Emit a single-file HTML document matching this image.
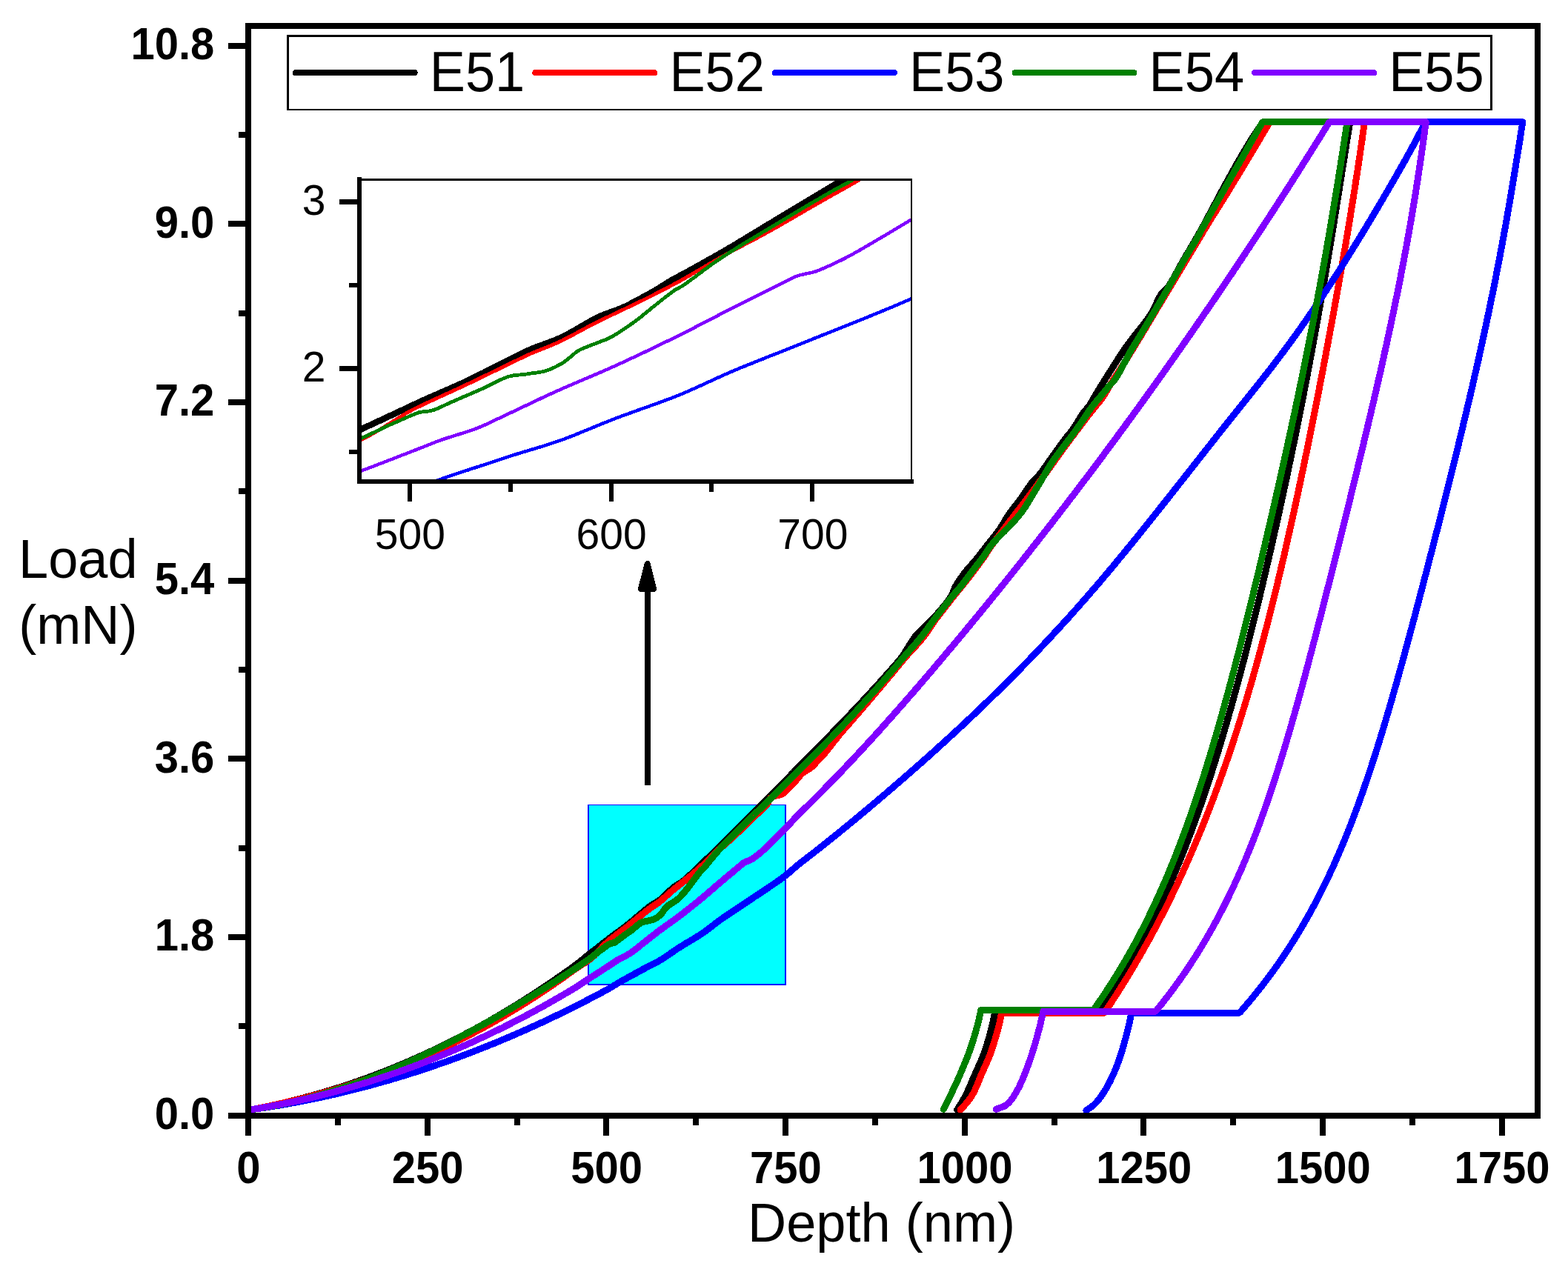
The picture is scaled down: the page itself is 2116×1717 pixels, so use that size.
<!DOCTYPE html>
<html lang="en"><head><meta charset="utf-8"><title>Load vs Depth</title>
<style>html,body{margin:0;padding:0;background:#fff}svg{display:block}text{font-family:'Liberation Sans', sans-serif;fill:#000}.b{font-weight:bold}</style>
</head><body>
<svg width="2116" height="1717" viewBox="0 0 2116 1717" role="img" aria-label="Load versus depth nanoindentation curves for E51 to E55">
<rect width="2116" height="1717" fill="#fff"/>
<g shape-rendering="crispEdges"><rect x="793" y="1086" width="268" height="244" fill="#0000ff"/><rect x="795" y="1087" width="264" height="241" fill="#00ffff"/></g>
<g fill="none" stroke-width="9" stroke-linejoin="round" stroke-linecap="round" shape-rendering="crispEdges">
<path stroke="#000000" d="M338 1498 L339.9 1497.6 L341.9 1497.3 L343.8 1496.9 L345.7 1496.5 L347.7 1496.2 L349.6 1495.8 L351.5 1495.4 L353.5 1495 L355.4 1494.6 L357.3 1494.2 L359.3 1493.8 L361.2 1493.4 L363.1 1493 L365.1 1492.6 L367 1492.2 L368.9 1491.8 L370.9 1491.3 L372.8 1490.9 L374.7 1490.5 L376.7 1490 L378.6 1489.6 L380.5 1489.2 L382.5 1488.7 L384.4 1488.2 L386.3 1487.8 L388.3 1487.3 L390.2 1486.9 L392.1 1486.4 L394.1 1485.9 L396 1485.4 L397.9 1484.9 L399.9 1484.5 L401.8 1484 L403.7 1483.5 L405.7 1483 L407.6 1482.5 L409.5 1482 L411.5 1481.4 L413.4 1480.9 L415.3 1480.4 L417.3 1479.9 L419.2 1479.3 L421.1 1478.8 L423.1 1478.3 L425 1477.7 L426.9 1477.2 L428.9 1476.6 L430.8 1476.1 L432.7 1475.5 L434.7 1474.9 L436.6 1474.4 L438.5 1473.8 L440.5 1473.2 L442.4 1472.6 L444.3 1472.1 L446.3 1471.5 L448.2 1470.9 L450.1 1470.3 L452.1 1469.7 L454 1469.1 L455.9 1468.4 L457.9 1467.8 L459.8 1467.2 L461.7 1466.6 L463.7 1465.9 L465.6 1465.3 L467.5 1464.7 L469.5 1464 L471.4 1463.4 L473.3 1462.7 L475.3 1462.1 L477.2 1461.4 L479.1 1460.7 L481.1 1460.1 L483 1459.4 L484.9 1458.7 L486.9 1458 L488.8 1457.3 L490.7 1456.7 L492.7 1456 L494.6 1455.3 L496.5 1454.6 L498.5 1453.8 L500.4 1453.1 L502.3 1452.4 L504.3 1451.7 L506.2 1451 L508.1 1450.2 L510.1 1449.5 L512 1448.7 L513.9 1448 L515.9 1447.2 L517.8 1446.5 L519.7 1445.7 L521.7 1445 L523.6 1444.2 L525.5 1443.4 L527.5 1442.6 L529.4 1441.9 L531.3 1441.1 L533.3 1440.3 L535.2 1439.5 L537.1 1438.7 L539.1 1437.9 L541 1437.1 L542.9 1436.3 L544.9 1435.4 L546.8 1434.6 L548.7 1433.8 L550.7 1433 L552.6 1432.1 L554.5 1431.3 L556.5 1430.4 L558.4 1429.6 L560.3 1428.7 L562.3 1427.9 L564.2 1427 L566.1 1426.1 L568.1 1425.3 L570 1424.4 L571.9 1423.5 L573.9 1422.6 L575.8 1421.7 L577.7 1420.8 L579.7 1419.9 L581.6 1419 L583.5 1418.1 L585.5 1417.2 L587.4 1416.3 L589.3 1415.3 L591.3 1414.4 L593.2 1413.5 L595.1 1412.5 L597.1 1411.6 L599 1410.6 L600.9 1409.7 L602.9 1408.7 L604.8 1407.8 L606.7 1406.8 L608.7 1405.8 L610.6 1404.8 L612.5 1403.9 L614.5 1402.9 L616.4 1401.9 L618.3 1400.9 L620.3 1399.9 L622.2 1398.9 L624.1 1397.9 L626.1 1396.9 L628 1395.8 L629.9 1394.8 L631.9 1393.8 L633.8 1392.8 L635.7 1391.7 L637.7 1390.7 L639.6 1389.6 L641.5 1388.6 L643.5 1387.5 L645.4 1386.4 L647.3 1385.4 L649.3 1384.3 L651.2 1383.2 L653.1 1382.1 L655.1 1381.1 L657 1380 L658.9 1378.9 L660.9 1377.8 L662.8 1376.7 L664.7 1375.6 L666.7 1374.4 L668.6 1373.3 L670.5 1372.2 L672.5 1371.1 L674.4 1369.9 L676.3 1368.8 L678.3 1367.6 L680.2 1366.5 L682.1 1365.3 L684.1 1364.2 L686 1363 L687.9 1361.8 L689.9 1360.7 L691.8 1359.5 L693.7 1358.3 L695.7 1357.1 L697.6 1355.9 L699.5 1354.7 L701.5 1353.5 L703.4 1352.3 L705.3 1351.1 L707.3 1349.9 L709.2 1348.6 L711.1 1347.4 L713.1 1346.2 L715 1344.9 L716.9 1343.7 L718.9 1342.4 L720.8 1341.2 L722.7 1339.9 L724.7 1338.7 L726.6 1337.4 L728.5 1336.1 L730.5 1334.8 L732.4 1333.6 L734.3 1332.3 L736.3 1331 L738.2 1329.7 L740.1 1328.4 L742.1 1327.1 L744 1325.8 L745.9 1324.4 L747.9 1323.1 L749.8 1321.8 L751.7 1320.4 L753.7 1319.1 L755.6 1317.8 L757.5 1316.4 L759.5 1315.1 L761.4 1313.7 L763.3 1312.3 L765.3 1311 L767.2 1309.6 L769.1 1308.2 L771.1 1306.8 L773 1305.4 L774.9 1304 L776.9 1302.6 L778.8 1301.2 L780.7 1299.7 L782.7 1298.1 L784.6 1296.5 L786.5 1294.9 L788.5 1293.3 L790.4 1291.7 L792.3 1290.2 L794.3 1288.6 L796.2 1287.1 L798.1 1285.6 L800.1 1284.1 L802 1282.6 L803.9 1281.1 L805.9 1279.6 L807.8 1278.1 L809.7 1276.6 L811.7 1275.1 L813.6 1273.6 L815.5 1272 L817.5 1270.5 L819.4 1269 L821.3 1267.5 L823.3 1266 L825.2 1264.5 L827.1 1263 L829.1 1261.6 L831 1260.2 L832.9 1258.8 L834.9 1257.4 L836.8 1256 L838.7 1254.6 L840.7 1253.1 L842.6 1251.7 L844.5 1250.2 L846.5 1248.7 L848.4 1247.1 L850.3 1245.5 L852.3 1243.9 L854.2 1242.3 L856.1 1240.7 L858.1 1239.1 L860 1237.4 L861.9 1235.8 L863.9 1234.1 L865.8 1232.5 L867.7 1230.9 L869.7 1229.3 L871.6 1227.6 L873.5 1226.1 L875.5 1224.5 L877.4 1223.1 L879.3 1221.9 L881.3 1220.6 L883.2 1219.5 L885.1 1218.3 L887.1 1217.1 L889 1215.8 L890.9 1214.4 L892.9 1212.8 L894.8 1211.1 L896.7 1209.3 L898.7 1207.5 L900.6 1205.6 L902.5 1203.7 L904.5 1201.8 L906.4 1200.1 L908.3 1198.4 L910.3 1196.9 L912.2 1195.6 L914.1 1194.4 L916.1 1193.2 L918 1192 L919.9 1190.8 L921.9 1189.3 L923.8 1187.7 L925.7 1186.1 L927.7 1184.4 L929.6 1182.6 L931.5 1180.8 L933.5 1179 L935.4 1177.2 L937.3 1175.3 L939.3 1173.3 L941.2 1171.3 L943.1 1169.3 L945.1 1167.4 L947 1165.7 L948.9 1163.9 L950.9 1162.2 L952.8 1160.4 L954.7 1158.6 L956.7 1156.9 L958.6 1155.1 L960.5 1153.2 L962.5 1151.4 L964.4 1149.6 L966.3 1147.7 L968.3 1145.9 L970.2 1144 L972.1 1142.1 L974.1 1140.2 L976 1138.3 L977.9 1136.3 L979.9 1134.4 L981.8 1132.4 L983.7 1130.5 L985.7 1128.5 L987.6 1126.5 L989.5 1124.5 L991.5 1122.6 L993.4 1120.6 L995.3 1118.7 L997.3 1116.7 L999.2 1114.8 L1001.1 1112.8 L1003.1 1110.9 L1005 1109 L1006.9 1107 L1008.9 1105.1 L1010.8 1103.2 L1012.7 1101.2 L1014.7 1099.3 L1016.6 1097.4 L1018.5 1095.4 L1020.5 1093.5 L1022.4 1091.5 L1024.3 1089.6 L1026.3 1087.6 L1028.2 1085.7 L1030.2 1083.7 L1032.1 1081.8 L1034 1079.9 L1036 1077.9 L1037.9 1076 L1039.8 1074 L1041.8 1072.1 L1043.7 1070.1 L1045.6 1068.1 L1047.6 1066.2 L1049.5 1064.2 L1051.4 1062.2 L1053.4 1060.3 L1055.3 1058.3 L1057.2 1056.3 L1059.2 1054.4 L1061.1 1052.4 L1063 1050.4 L1065 1048.5 L1066.9 1046.5 L1068.8 1044.5 L1070.8 1042.6 L1072.7 1040.6 L1074.6 1038.7 L1076.6 1036.7 L1078.5 1034.7 L1080.4 1032.8 L1082.4 1030.8 L1084.3 1028.9 L1086.2 1026.9 L1088.2 1024.9 L1090.1 1023 L1092 1021 L1094 1019.1 L1095.9 1017.1 L1097.8 1015.1 L1099.8 1013.2 L1101.7 1011.2 L1103.6 1009.2 L1105.6 1007.3 L1107.5 1005.3 L1109.4 1003.3 L1111.4 1001.3 L1113.3 999.4 L1115.2 997.4 L1117.2 995.4 L1119.1 993.4 L1121 991.4 L1123 989.4 L1124.9 987.4 L1126.8 985.4 L1128.8 983.4 L1130.7 981.4 L1132.6 979.4 L1134.6 977.4 L1136.5 975.4 L1138.4 973.4 L1140.4 971.4 L1142.3 969.4 L1144.2 967.3 L1146.2 965.3 L1148.1 963.3 L1150 961.2 L1152 959.2 L1153.9 957.2 L1155.8 955.1 L1157.8 953 L1159.7 951 L1161.6 948.9 L1163.6 946.9 L1165.5 944.8 L1167.4 942.7 L1169.4 940.6 L1171.3 938.5 L1173.2 936.4 L1175.2 934.3 L1177.1 932.2 L1179 930.1 L1181 928 L1182.9 925.9 L1184.8 923.7 L1186.8 921.6 L1188.7 919.5 L1190.6 917.3 L1192.6 915.1 L1194.5 913 L1196.4 910.8 L1198.4 908.6 L1200.3 906.5 L1202.2 904.3 L1204.2 902.1 L1206.1 899.9 L1208 897.6 L1210 895.4 L1211.9 893.2 L1213.8 891 L1215.8 888.6 L1217.7 885.9 L1219.6 883 L1221.6 880 L1223.5 876.9 L1225.4 873.8 L1227.4 870.6 L1229.3 867.5 L1231.2 864.6 L1233.2 861.8 L1235.1 859.2 L1237 856.9 L1239 854.7 L1240.9 852.7 L1242.8 850.7 L1244.8 848.9 L1246.7 847.1 L1248.6 845.3 L1250.6 843.5 L1252.5 841.7 L1254.4 839.8 L1256.4 837.9 L1258.3 835.9 L1260.2 833.8 L1262.2 831.6 L1264.1 829.4 L1266 827.3 L1268 825 L1269.9 822.8 L1271.8 820.5 L1273.8 818.2 L1275.7 815.8 L1277.6 813.3 L1279.6 810.8 L1281.5 808.1 L1283.4 805.2 L1285.4 801.1 L1287.3 796.3 L1289.2 792 L1291.2 788.7 L1293.1 785.6 L1295 782.7 L1297 779.8 L1298.9 777.1 L1300.8 774.5 L1302.8 772 L1304.7 769.7 L1306.6 767.4 L1308.6 765.2 L1310.5 763 L1312.4 760.9 L1314.4 758.7 L1316.3 756.4 L1318.2 754.1 L1320.2 751.6 L1322.1 749.1 L1324 746.6 L1326 744.1 L1327.9 741.6 L1329.8 739.1 L1331.8 736.5 L1333.7 734 L1335.6 731.6 L1337.6 729.2 L1339.5 726.7 L1341.4 724.3 L1343.4 721.9 L1345.3 719.4 L1347.2 716.8 L1349.2 714.1 L1351.1 711.2 L1353 708.1 L1355 704.9 L1356.9 701.6 L1358.8 698.4 L1360.8 695.3 L1362.7 692.5 L1364.6 689.9 L1366.6 687.3 L1368.5 684.8 L1370.4 682.3 L1372.4 679.9 L1374.3 677.4 L1376.2 674.9 L1378.2 672.3 L1380.1 669.6 L1382 666.8 L1384 663.9 L1385.9 661 L1387.8 658.1 L1389.8 655.3 L1391.7 652.6 L1393.6 650.2 L1395.6 648.1 L1397.5 646.1 L1399.4 644.2 L1401.4 642.2 L1403.3 640 L1405.2 637.5 L1407.2 634.8 L1409.1 632.1 L1411 629.4 L1413 626.6 L1414.9 623.9 L1416.8 621.1 L1418.8 618.4 L1420.7 615.7 L1422.6 613 L1424.6 610.3 L1426.5 607.6 L1428.4 604.9 L1430.4 602.2 L1432.3 599.5 L1434.2 596.8 L1436.2 594.2 L1438.1 591.7 L1440 589.3 L1442 587 L1443.9 584.7 L1445.8 582.2 L1447.8 579.6 L1449.7 576.7 L1451.6 573.7 L1453.6 570.6 L1455.5 567.4 L1457.4 564.2 L1459.4 561.1 L1461.3 558.1 L1463.2 555.6 L1465.2 553.4 L1467.1 551.2 L1469 548.8 L1471 546 L1472.9 542.8 L1474.8 539.5 L1476.8 536 L1478.7 532.7 L1480.6 529.5 L1482.6 526.3 L1484.5 523.2 L1486.4 520 L1488.4 516.9 L1490.3 513.8 L1492.2 510.8 L1494.2 507.7 L1496.1 504.6 L1498 501.5 L1500 498.5 L1501.9 495.4 L1503.8 492.4 L1505.8 489.4 L1507.7 486.4 L1509.6 483.4 L1511.6 480.4 L1513.5 477.5 L1515.4 474.6 L1517.4 471.7 L1519.3 468.9 L1521.2 466.2 L1523.2 463.5 L1525.1 460.9 L1527 458.4 L1529 455.9 L1530.9 453.4 L1532.8 451 L1534.8 448.5 L1536.7 446.1 L1538.6 443.7 L1540.6 441.2 L1542.5 438.7 L1544.4 436.2 L1546.4 433.7 L1548.3 431 L1550.2 428.4 L1552.2 425.6 L1554.1 422.7 L1556 419.4 L1558 415.5 L1559.9 411.2 L1561.8 406.9 L1563.8 402.8 L1565.7 399.2 L1567.6 396.5 L1569.6 394.3 L1571.5 392.5 L1573.4 390.7 L1575.4 388.7 L1577.3 386.1 L1579.2 383 L1581.2 379.8 L1583.1 376.4 L1585 373 L1587 369.5 L1588.9 365.9 L1590.8 362.4 L1592.8 358.8 L1594.7 355.4 L1596.6 351.9 L1598.6 348.6 L1600.5 345.3 L1602.4 342 L1604.4 338.8 L1606.3 335.5 L1608.2 332.2 L1610.2 328.9 L1612.1 325.6 L1614 322.2 L1616 318.9 L1617.9 315.5 L1619.8 312.1 L1621.8 308.6 L1623.7 305.1 L1625.6 301.6 L1627.6 298 L1629.5 294.4 L1631.4 290.8 L1633.4 287.1 L1635.3 283.5 L1637.2 279.8 L1639.2 276.1 L1641.1 272.5 L1643 268.8 L1645 265.2 L1646.9 261.6 L1648.8 258 L1650.8 254.4 L1652.7 250.9 L1654.6 247.3 L1656.6 243.8 L1658.5 240.3 L1660.4 236.8 L1662.4 233.3 L1664.3 229.8 L1666.2 226.4 L1668.2 222.9 L1670.1 219.5 L1672 216.1 L1674 212.8 L1675.9 209.5 L1677.8 206.2 L1679.8 202.9 L1681.7 199.7 L1683.6 196.5 L1685.6 193.4 L1687.5 190.2 L1689.4 187.2 L1691.4 184.1 L1693.3 181.1 L1695.2 178.2 L1697.2 175.3 L1699.1 172.4 L1701 169.6 L1703 166.9 L1704.5 164.7 L1821.7 164.7 L1821.1 168.7 L1820.4 172.7 L1819.8 176.7 L1819.1 180.7 L1818.5 184.7 L1817.9 188.7 L1817.2 192.7 L1816.6 196.7 L1816 200.7 L1815.3 204.7 L1814.7 208.7 L1814.1 212.7 L1813.4 216.7 L1812.8 220.7 L1812.2 224.7 L1811.5 228.7 L1810.9 232.7 L1810.3 236.7 L1809.6 240.7 L1809 244.7 L1808.4 248.7 L1807.7 252.7 L1807.1 256.7 L1806.5 260.7 L1805.8 264.7 L1805.2 268.7 L1804.6 272.7 L1803.9 276.7 L1803.3 280.7 L1802.7 284.7 L1802 288.7 L1801.4 292.7 L1800.7 296.7 L1800.1 300.7 L1799.4 304.7 L1798.8 308.7 L1798.1 312.7 L1797.5 316.7 L1796.8 320.7 L1796.2 324.7 L1795.5 328.7 L1794.9 332.7 L1794.2 336.7 L1793.5 340.7 L1792.9 344.7 L1792.2 348.7 L1791.5 352.7 L1790.9 356.7 L1790.2 360.7 L1789.5 364.7 L1788.9 368.7 L1788.2 372.7 L1787.5 376.7 L1786.8 380.7 L1786.1 384.7 L1785.4 388.7 L1784.8 392.7 L1784.1 396.7 L1783.4 400.7 L1782.7 404.7 L1782 408.7 L1781.3 412.7 L1780.6 416.7 L1779.9 420.7 L1779.2 424.7 L1778.5 428.7 L1777.7 432.7 L1777 436.7 L1776.3 440.7 L1775.6 444.7 L1774.9 448.7 L1774.1 452.7 L1773.4 456.7 L1772.7 460.7 L1771.9 464.7 L1771.2 468.7 L1770.5 472.7 L1769.7 476.7 L1769 480.7 L1768.2 484.7 L1767.5 488.7 L1766.7 492.7 L1766 496.7 L1765.2 500.7 L1764.5 504.7 L1763.7 508.7 L1762.9 512.7 L1762.2 516.7 L1761.4 520.7 L1760.6 524.7 L1759.9 528.7 L1759.1 532.7 L1758.3 536.7 L1757.5 540.7 L1756.7 544.7 L1755.9 548.7 L1755.2 552.7 L1754.4 556.7 L1753.6 560.7 L1752.8 564.7 L1752 568.7 L1751.2 572.7 L1750.4 576.7 L1749.5 580.7 L1748.7 584.7 L1747.9 588.7 L1747.1 592.7 L1746.3 596.7 L1745.5 600.7 L1744.6 604.7 L1743.8 608.7 L1743 612.7 L1742.1 616.7 L1741.3 620.7 L1740.5 624.7 L1739.6 628.7 L1738.8 632.7 L1737.9 636.7 L1737.1 640.7 L1736.3 644.7 L1735.4 648.7 L1734.5 652.7 L1733.7 656.7 L1732.8 660.7 L1732 664.7 L1731.1 668.7 L1730.2 672.7 L1729.4 676.7 L1728.5 680.7 L1727.6 684.7 L1726.7 688.7 L1725.9 692.7 L1725 696.7 L1724.1 700.7 L1723.2 704.7 L1722.3 708.7 L1721.4 712.7 L1720.5 716.7 L1719.6 720.7 L1718.7 724.7 L1717.8 728.7 L1716.9 732.7 L1716 736.7 L1715.1 740.7 L1714.2 744.7 L1713.2 748.7 L1712.3 752.7 L1711.4 756.7 L1710.5 760.7 L1709.5 764.7 L1708.6 768.7 L1707.7 772.7 L1706.7 776.7 L1705.8 780.7 L1704.8 784.7 L1703.9 788.7 L1702.9 792.7 L1702 796.7 L1701 800.7 L1700.1 804.7 L1699.1 808.7 L1698.1 812.7 L1697.2 816.7 L1696.2 820.7 L1695.2 824.7 L1694.2 828.7 L1693.3 832.7 L1692.3 836.7 L1691.3 840.7 L1690.3 844.7 L1689.3 848.7 L1688.3 852.7 L1687.3 856.7 L1686.3 860.7 L1685.3 864.7 L1684.3 868.7 L1683.2 872.7 L1682.2 876.7 L1681.2 880.7 L1680.1 884.7 L1679.1 888.7 L1678.1 892.7 L1677 896.7 L1676 900.7 L1674.9 904.7 L1673.9 908.7 L1672.8 912.7 L1671.7 916.7 L1670.7 920.7 L1669.6 924.7 L1668.5 928.7 L1667.4 932.7 L1666.3 936.7 L1665.2 940.7 L1664.1 944.7 L1663 948.7 L1661.9 952.7 L1660.8 956.7 L1659.6 960.7 L1658.5 964.7 L1657.4 968.7 L1656.2 972.7 L1655.1 976.7 L1653.9 980.7 L1652.7 984.7 L1651.6 988.7 L1650.4 992.7 L1649.2 996.7 L1648 1000.7 L1646.8 1004.7 L1645.6 1008.7 L1644.4 1012.7 L1643.2 1016.7 L1641.9 1020.7 L1640.7 1024.7 L1639.5 1028.7 L1638.2 1032.7 L1636.9 1036.7 L1635.7 1040.7 L1634.4 1044.7 L1633.1 1048.7 L1631.8 1052.7 L1630.5 1056.7 L1629.2 1060.7 L1627.8 1064.7 L1626.5 1068.7 L1625.2 1072.7 L1623.8 1076.7 L1622.4 1080.7 L1621.1 1084.7 L1619.7 1088.7 L1618.3 1092.7 L1616.9 1096.7 L1615.4 1100.7 L1614 1104.7 L1612.6 1108.7 L1611.1 1112.7 L1609.6 1116.7 L1608.2 1120.7 L1606.7 1124.7 L1605.2 1128.7 L1603.6 1132.7 L1602.1 1136.7 L1600.6 1140.7 L1599 1144.7 L1597.4 1148.7 L1595.8 1152.7 L1594.2 1156.7 L1592.6 1160.7 L1591 1164.7 L1589.3 1168.7 L1587.7 1172.7 L1586 1176.7 L1584.3 1180.7 L1582.6 1184.7 L1580.9 1188.7 L1579.1 1192.7 L1577.3 1196.7 L1575.6 1200.7 L1573.8 1204.7 L1571.9 1208.7 L1570.1 1212.7 L1568.2 1216.7 L1566.4 1220.7 L1564.5 1224.7 L1562.6 1228.7 L1560.6 1232.7 L1558.7 1236.7 L1556.7 1240.7 L1554.7 1244.7 L1552.7 1248.7 L1550.6 1252.7 L1548.6 1256.7 L1546.5 1260.7 L1544.4 1264.7 L1542.3 1268.7 L1540.1 1272.7 L1537.9 1276.7 L1535.7 1280.7 L1533.5 1284.7 L1531.2 1288.7 L1529 1292.7 L1526.7 1296.7 L1524.3 1300.7 L1522 1304.7 L1519.6 1308.7 L1517.2 1312.7 L1514.7 1316.7 L1512.3 1320.7 L1509.8 1324.7 L1507.2 1328.7 L1504.7 1332.7 L1502.1 1336.7 L1499.5 1340.7 L1496.8 1344.7 L1494.2 1348.7 L1491.4 1352.7 L1488.7 1356.7 L1485.9 1360.7 L1483.6 1364 L1342.9 1364 L1342.3 1368 L1341.5 1372 L1340.8 1376 L1339.9 1380 L1339 1384 L1338 1388 L1337 1392 L1335.9 1396 L1334.8 1400 L1333.6 1404 L1332.4 1408 L1331.2 1412 L1329.9 1416 L1328.6 1420 L1327.1 1424 L1325.5 1428 L1323.8 1432 L1322.1 1436 L1320.3 1440 L1318.5 1444 L1316.7 1448 L1314.9 1452 L1313.2 1456 L1311.5 1460 L1309.8 1464 L1308.1 1468 L1306.3 1472 L1304.4 1476 L1302.4 1480 L1300.2 1484 L1297.9 1488 L1295.5 1492 L1293 1496 L1291.6 1498.1"/>
<path stroke="#ff0000" d="M338 1498 L339.9 1497.6 L341.9 1497.3 L343.8 1496.9 L345.7 1496.5 L347.7 1496.1 L349.6 1495.8 L351.5 1495.4 L353.5 1495 L355.4 1494.6 L357.3 1494.2 L359.3 1493.8 L361.2 1493.4 L363.1 1493 L365.1 1492.6 L367 1492.2 L368.9 1491.7 L370.9 1491.3 L372.8 1490.9 L374.7 1490.5 L376.7 1490 L378.6 1489.6 L380.5 1489.2 L382.5 1488.7 L384.4 1488.3 L386.3 1487.8 L388.3 1487.4 L390.2 1486.9 L392.1 1486.5 L394.1 1486 L396 1485.6 L397.9 1485.1 L399.9 1484.6 L401.8 1484.1 L403.7 1483.7 L405.7 1483.2 L407.6 1482.7 L409.5 1482.2 L411.5 1481.7 L413.4 1481.2 L415.3 1480.7 L417.3 1480.2 L419.2 1479.7 L421.1 1479.2 L423.1 1478.7 L425 1478.1 L426.9 1477.6 L428.9 1477.1 L430.8 1476.6 L432.7 1476 L434.7 1475.5 L436.6 1474.9 L438.5 1474.4 L440.5 1473.8 L442.4 1473.3 L444.3 1472.7 L446.3 1472.2 L448.2 1471.6 L450.1 1471 L452.1 1470.5 L454 1469.9 L455.9 1469.3 L457.9 1468.7 L459.8 1468.1 L461.7 1467.5 L463.7 1466.9 L465.6 1466.3 L467.5 1465.7 L469.5 1465.1 L471.4 1464.5 L473.3 1463.9 L475.3 1463.2 L477.2 1462.6 L479.1 1462 L481.1 1461.4 L483 1460.7 L484.9 1460.1 L486.9 1459.4 L488.8 1458.8 L490.7 1458.1 L492.7 1457.5 L494.6 1456.8 L496.5 1456.1 L498.5 1455.4 L500.4 1454.8 L502.3 1454.1 L504.3 1453.4 L506.2 1452.7 L508.1 1452 L510.1 1451.3 L512 1450.6 L513.9 1449.9 L515.9 1449.2 L517.8 1448.5 L519.7 1447.8 L521.7 1447 L523.6 1446.3 L525.5 1445.6 L527.5 1444.8 L529.4 1444.1 L531.3 1443.3 L533.3 1442.6 L535.2 1441.8 L537.1 1441.1 L539.1 1440.3 L541 1439.5 L542.9 1438.8 L544.9 1438 L546.8 1437.2 L548.7 1436.4 L550.7 1435.6 L552.6 1434.8 L554.5 1434 L556.5 1433.2 L558.4 1432.4 L560.3 1431.6 L562.3 1430.8 L564.2 1429.9 L566.1 1429.1 L568.1 1428.3 L570 1427.4 L571.9 1426.6 L573.9 1425.7 L575.8 1424.9 L577.7 1424 L579.7 1423.2 L581.6 1422.3 L583.5 1421.4 L585.5 1420.5 L587.4 1419.7 L589.3 1418.8 L591.3 1417.9 L593.2 1417 L595.1 1416.1 L597.1 1415.2 L599 1414.3 L600.9 1413.3 L602.9 1412.4 L604.8 1411.5 L606.7 1410.6 L608.7 1409.6 L610.6 1408.7 L612.5 1407.7 L614.5 1406.8 L616.4 1405.8 L618.3 1404.9 L620.3 1403.9 L622.2 1402.9 L624.1 1401.9 L626.1 1401 L628 1400 L629.9 1399 L631.9 1398 L633.8 1397 L635.7 1396 L637.7 1395 L639.6 1393.9 L641.5 1392.9 L643.5 1391.9 L645.4 1390.9 L647.3 1389.8 L649.3 1388.8 L651.2 1387.7 L653.1 1386.7 L655.1 1385.6 L657 1384.5 L658.9 1383.5 L660.9 1382.4 L662.8 1381.3 L664.7 1380.2 L666.7 1379.1 L668.6 1378 L670.5 1376.9 L672.5 1375.8 L674.4 1374.7 L676.3 1373.6 L678.3 1372.5 L680.2 1371.3 L682.1 1370.2 L684.1 1369.1 L686 1367.9 L687.9 1366.8 L689.9 1365.6 L691.8 1364.4 L693.7 1363.3 L695.7 1362.1 L697.6 1360.9 L699.5 1359.7 L701.5 1358.5 L703.4 1357.3 L705.3 1356.1 L707.3 1354.9 L709.2 1353.7 L711.1 1352.5 L713.1 1351.3 L715 1350.1 L716.9 1348.8 L718.9 1347.6 L720.8 1346.3 L722.7 1345.1 L724.7 1343.8 L726.6 1342.6 L728.5 1341.3 L730.5 1340 L732.4 1338.7 L734.3 1337.4 L736.3 1336.1 L738.2 1334.8 L740.1 1333.5 L742.1 1332.2 L744 1330.9 L745.9 1329.6 L747.9 1328.3 L749.8 1326.9 L751.7 1325.6 L753.7 1324.2 L755.6 1322.9 L757.5 1321.5 L759.5 1320.2 L761.4 1318.8 L763.3 1317.4 L765.3 1316 L767.2 1314.6 L769.1 1313.3 L771.1 1311.8 L773 1310.4 L774.9 1309 L776.9 1307.6 L778.8 1306.3 L780.7 1305 L782.7 1303.8 L784.6 1302.6 L786.5 1301.4 L788.5 1300.2 L790.4 1299 L792.3 1297.7 L794.3 1296.3 L796.2 1294.8 L798.1 1293.2 L800.1 1291.5 L802 1289.7 L803.9 1287.7 L805.9 1285.7 L807.8 1283.7 L809.7 1281.7 L811.7 1279.7 L813.6 1277.7 L815.5 1275.7 L817.5 1273.8 L819.4 1272.1 L821.3 1270.4 L823.3 1268.8 L825.2 1267.3 L827.1 1265.8 L829.1 1264.3 L831 1262.8 L832.9 1261.3 L834.9 1259.8 L836.8 1258.4 L838.7 1256.9 L840.7 1255.4 L842.6 1253.9 L844.5 1252.4 L846.5 1250.9 L848.4 1249.3 L850.3 1247.8 L852.3 1246.2 L854.2 1244.6 L856.1 1243.1 L858.1 1241.5 L860 1239.9 L861.9 1238.3 L863.9 1236.7 L865.8 1235.2 L867.7 1233.6 L869.7 1232 L871.6 1230.5 L873.5 1229 L875.5 1227.5 L877.4 1226.1 L879.3 1224.7 L881.3 1223.4 L883.2 1222.1 L885.1 1220.8 L887.1 1219.5 L889 1218.1 L890.9 1216.6 L892.9 1215 L894.8 1213.3 L896.7 1211.6 L898.7 1209.9 L900.6 1208.1 L902.5 1206.4 L904.5 1204.6 L906.4 1203 L908.3 1201.3 L910.3 1199.8 L912.2 1198.2 L914.1 1196.7 L916.1 1195.1 L918 1193.6 L919.9 1192 L921.9 1190.5 L923.8 1189 L925.7 1187.4 L927.7 1185.8 L929.6 1184.3 L931.5 1182.7 L933.5 1181.1 L935.4 1179.4 L937.3 1177.8 L939.3 1176.1 L941.2 1174.5 L943.1 1172.8 L945.1 1171.1 L947 1169.3 L948.9 1167.5 L950.9 1165.7 L952.8 1163.9 L954.7 1162 L956.7 1160.1 L958.6 1158.2 L960.5 1156.3 L962.5 1154.4 L964.4 1152.5 L966.3 1150.6 L968.3 1148.8 L970.2 1147 L972.1 1145.3 L974.1 1143.5 L976 1141.8 L977.9 1140.1 L979.9 1138.4 L981.8 1136.7 L983.7 1135 L985.7 1133.3 L987.6 1131.6 L989.5 1129.8 L991.5 1128 L993.4 1126.2 L995.3 1124.3 L997.3 1122.5 L999.2 1120.6 L1001.1 1118.7 L1003.1 1116.9 L1005 1115 L1006.9 1113.1 L1008.9 1111.2 L1010.8 1109.4 L1012.7 1107.5 L1014.7 1105.6 L1016.6 1103.8 L1018.5 1101.9 L1020.5 1100.1 L1022.4 1098.3 L1024.3 1096.5 L1026.3 1094.7 L1028.2 1092.9 L1030.2 1091 L1032.1 1089.2 L1034 1087.3 L1036 1084.6 L1037.9 1080.5 L1039.8 1077.4 L1041.8 1075.9 L1043.7 1075 L1045.6 1074.3 L1047.6 1073.9 L1049.5 1073.6 L1051.4 1073.2 L1053.4 1072.7 L1055.3 1072 L1057.2 1070.8 L1059.2 1069.3 L1061.1 1067.5 L1063 1065.6 L1065 1063.6 L1066.9 1061.6 L1068.8 1059.6 L1070.8 1057.5 L1072.7 1055.4 L1074.6 1053.1 L1076.6 1050.7 L1078.5 1048.4 L1080.4 1046.2 L1082.4 1044.2 L1084.3 1042.5 L1086.2 1041.2 L1088.2 1040.2 L1090.1 1039.1 L1092 1038 L1094 1036.6 L1095.9 1034.8 L1097.8 1032.9 L1099.8 1030.9 L1101.7 1028.9 L1103.6 1026.9 L1105.6 1024.8 L1107.5 1022.8 L1109.4 1020.6 L1111.4 1018.5 L1113.3 1016.4 L1115.2 1014.1 L1117.2 1011.7 L1119.1 1009.3 L1121 1006.8 L1123 1004.2 L1124.9 1001.8 L1126.8 999.4 L1128.8 997 L1130.7 994.5 L1132.6 992.1 L1134.6 989.8 L1136.5 987.5 L1138.4 985.3 L1140.4 983.1 L1142.3 980.9 L1144.2 978.7 L1146.2 976.5 L1148.1 974.3 L1150 972.1 L1152 969.8 L1153.9 967.6 L1155.8 965.4 L1157.8 963.2 L1159.7 960.9 L1161.6 958.7 L1163.6 956.5 L1165.5 954.2 L1167.4 952 L1169.4 949.7 L1171.3 947.4 L1173.2 945.2 L1175.2 942.9 L1177.1 940.6 L1179 938.4 L1181 936.1 L1182.9 933.8 L1184.8 931.5 L1186.8 929.2 L1188.7 926.9 L1190.6 924.6 L1192.6 922.3 L1194.5 920 L1196.4 917.7 L1198.4 915.4 L1200.3 913.1 L1202.2 910.8 L1204.2 908.5 L1206.1 906.2 L1208 903.8 L1210 901.5 L1211.9 899.2 L1213.8 896.9 L1215.8 894.5 L1217.7 892.2 L1219.6 889.9 L1221.6 887.6 L1223.5 885.4 L1225.4 883.2 L1227.4 881.1 L1229.3 879 L1231.2 876.9 L1233.2 874.8 L1235.1 872.7 L1237 870.6 L1239 868.4 L1240.9 866.2 L1242.8 864 L1244.8 861.7 L1246.7 859.3 L1248.6 856.8 L1250.6 854.1 L1252.5 851.3 L1254.4 848.3 L1256.4 845.3 L1258.3 842.3 L1260.2 839.4 L1262.2 836.7 L1264.1 834.1 L1266 831.7 L1268 829.2 L1269.9 826.7 L1271.8 824.3 L1273.8 821.8 L1275.7 819.3 L1277.6 816.9 L1279.6 814.4 L1281.5 811.9 L1283.4 809.4 L1285.4 807 L1287.3 804.5 L1289.2 802.1 L1291.2 799.7 L1293.1 797.3 L1295 794.9 L1297 792.6 L1298.9 790.2 L1300.8 787.8 L1302.8 785.4 L1304.7 783 L1306.6 780.5 L1308.6 778.1 L1310.5 775.5 L1312.4 773 L1314.4 770.4 L1316.3 767.8 L1318.2 765.2 L1320.2 762.6 L1322.1 759.9 L1324 757.3 L1326 754.6 L1327.9 751.9 L1329.8 749 L1331.8 745.9 L1333.7 742.8 L1335.6 739.8 L1337.6 737 L1339.5 734.4 L1341.4 731.8 L1343.4 729.3 L1345.3 726.7 L1347.2 724.1 L1349.2 721.5 L1351.1 718.9 L1353 716.4 L1355 713.8 L1356.9 711.2 L1358.8 708.7 L1360.8 706.1 L1362.7 703.6 L1364.6 701.1 L1366.6 698.6 L1368.5 696.1 L1370.4 693.6 L1372.4 691.1 L1374.3 688.6 L1376.2 686.1 L1378.2 683.6 L1380.1 681.1 L1382 678.5 L1384 676 L1385.9 673.5 L1387.8 670.9 L1389.8 668.3 L1391.7 665.7 L1393.6 663.1 L1395.6 660.5 L1397.5 657.9 L1399.4 655.2 L1401.4 652.5 L1403.3 649.9 L1405.2 647.2 L1407.2 644.5 L1409.1 641.8 L1411 639.1 L1413 636.4 L1414.9 633.7 L1416.8 631 L1418.8 628.3 L1420.7 625.6 L1422.6 622.9 L1424.6 620.2 L1426.5 617.5 L1428.4 614.8 L1430.4 612.1 L1432.3 609.4 L1434.2 606.7 L1436.2 604.1 L1438.1 601.4 L1440 598.8 L1442 596.2 L1443.9 593.5 L1445.8 590.9 L1447.8 588.4 L1449.7 585.8 L1451.6 583.2 L1453.6 580.6 L1455.5 578.1 L1457.4 575.5 L1459.4 573 L1461.3 570.4 L1463.2 567.9 L1465.2 565.3 L1467.1 562.8 L1469 560.4 L1471 557.9 L1472.9 555.5 L1474.8 553 L1476.8 550.6 L1478.7 548.2 L1480.6 545.8 L1482.6 543.5 L1484.5 541.2 L1486.4 538.7 L1488.4 536 L1490.3 533 L1492.2 529.8 L1494.2 526.5 L1496.1 523.1 L1498 519.7 L1500 516.5 L1501.9 513.5 L1503.8 510.5 L1505.8 507.6 L1507.7 504.6 L1509.6 501.6 L1511.6 498.6 L1513.5 495.6 L1515.4 492.5 L1517.4 489.5 L1519.3 486.4 L1521.2 483.3 L1523.2 480.2 L1525.1 477.1 L1527 473.9 L1529 470.8 L1530.9 467.6 L1532.8 464.5 L1534.8 461.3 L1536.7 458.1 L1538.6 454.9 L1540.6 451.7 L1542.5 448.4 L1544.4 445.2 L1546.4 442 L1548.3 438.7 L1550.2 435.5 L1552.2 432.2 L1554.1 428.9 L1556 425.7 L1558 422.4 L1559.9 419.2 L1561.8 415.9 L1563.8 412.7 L1565.7 409.5 L1567.6 406.3 L1569.6 403.1 L1571.5 399.9 L1573.4 396.7 L1575.4 393.4 L1577.3 390.2 L1579.2 387 L1581.2 383.7 L1583.1 380.5 L1585 377.3 L1587 374 L1588.9 370.8 L1590.8 367.6 L1592.8 364.4 L1594.7 361.1 L1596.6 357.9 L1598.6 354.7 L1600.5 351.5 L1602.4 348.3 L1604.4 345.1 L1606.3 341.9 L1608.2 338.7 L1610.2 335.4 L1612.1 332.2 L1614 329 L1616 325.8 L1617.9 322.5 L1619.8 319.3 L1621.8 316.1 L1623.7 312.8 L1625.6 309.6 L1627.6 306.4 L1629.5 303.2 L1631.4 300 L1633.4 296.8 L1635.3 293.7 L1637.2 290.7 L1639.2 287.6 L1641.1 284.6 L1643 281.6 L1645 278.5 L1646.9 275.4 L1648.8 272.3 L1650.8 269.2 L1652.7 266 L1654.6 262.9 L1656.6 259.7 L1658.5 256.5 L1660.4 253.4 L1662.4 250.2 L1664.3 247 L1666.2 243.8 L1668.2 240.7 L1670.1 237.5 L1672 234.3 L1674 231.1 L1675.9 227.9 L1677.8 224.7 L1679.8 221.5 L1681.7 218.3 L1683.6 215.1 L1685.6 211.9 L1687.5 208.6 L1689.4 205.4 L1691.4 202.2 L1693.3 198.9 L1695.2 195.7 L1697.2 192.4 L1699.1 189.2 L1701 185.9 L1703 182.6 L1704.9 179.4 L1706.8 176.1 L1708.8 172.8 L1710.7 169.5 L1712.6 166.2 L1713.5 164.7 L1841.4 164.7 L1840.9 168.7 L1840.3 172.7 L1839.8 176.7 L1839.2 180.7 L1838.6 184.7 L1838.1 188.7 L1837.5 192.7 L1836.9 196.7 L1836.3 200.7 L1835.8 204.7 L1835.2 208.7 L1834.6 212.7 L1834 216.7 L1833.4 220.7 L1832.8 224.7 L1832.2 228.7 L1831.6 232.7 L1831 236.7 L1830.3 240.7 L1829.7 244.7 L1829.1 248.7 L1828.5 252.7 L1827.9 256.7 L1827.2 260.7 L1826.6 264.7 L1826 268.7 L1825.3 272.7 L1824.7 276.7 L1824 280.7 L1823.4 284.7 L1822.7 288.7 L1822.1 292.7 L1821.4 296.7 L1820.8 300.7 L1820.1 304.7 L1819.4 308.7 L1818.8 312.7 L1818.1 316.7 L1817.4 320.7 L1816.7 324.7 L1816.1 328.7 L1815.4 332.7 L1814.7 336.7 L1814 340.7 L1813.3 344.7 L1812.6 348.7 L1811.9 352.7 L1811.2 356.7 L1810.6 360.7 L1809.9 364.7 L1809.2 368.7 L1808.4 372.7 L1807.7 376.7 L1807 380.7 L1806.3 384.7 L1805.6 388.7 L1804.9 392.7 L1804.2 396.7 L1803.5 400.7 L1802.7 404.7 L1802 408.7 L1801.3 412.7 L1800.6 416.7 L1799.9 420.7 L1799.1 424.7 L1798.4 428.7 L1797.7 432.7 L1796.9 436.7 L1796.2 440.7 L1795.4 444.7 L1794.7 448.7 L1794 452.7 L1793.2 456.7 L1792.5 460.7 L1791.7 464.7 L1791 468.7 L1790.2 472.7 L1789.5 476.7 L1788.7 480.7 L1787.9 484.7 L1787.2 488.7 L1786.4 492.7 L1785.7 496.7 L1784.9 500.7 L1784.1 504.7 L1783.4 508.7 L1782.6 512.7 L1781.8 516.7 L1781 520.7 L1780.3 524.7 L1779.5 528.7 L1778.7 532.7 L1777.9 536.7 L1777.1 540.7 L1776.4 544.7 L1775.6 548.7 L1774.8 552.7 L1774 556.7 L1773.2 560.7 L1772.4 564.7 L1771.6 568.7 L1770.8 572.7 L1770 576.7 L1769.2 580.7 L1768.4 584.7 L1767.6 588.7 L1766.8 592.7 L1765.9 596.7 L1765.1 600.7 L1764.3 604.7 L1763.5 608.7 L1762.7 612.7 L1761.8 616.7 L1761 620.7 L1760.2 624.7 L1759.3 628.7 L1758.5 632.7 L1757.7 636.7 L1756.8 640.7 L1756 644.7 L1755.1 648.7 L1754.3 652.7 L1753.4 656.7 L1752.6 660.7 L1751.7 664.7 L1750.9 668.7 L1750 672.7 L1749.2 676.7 L1748.3 680.7 L1747.4 684.7 L1746.5 688.7 L1745.7 692.7 L1744.8 696.7 L1743.9 700.7 L1743 704.7 L1742.1 708.7 L1741.2 712.7 L1740.3 716.7 L1739.4 720.7 L1738.5 724.7 L1737.6 728.7 L1736.7 732.7 L1735.8 736.7 L1734.9 740.7 L1734 744.7 L1733.1 748.7 L1732.1 752.7 L1731.2 756.7 L1730.3 760.7 L1729.3 764.7 L1728.4 768.7 L1727.4 772.7 L1726.5 776.7 L1725.5 780.7 L1724.6 784.7 L1723.6 788.7 L1722.6 792.7 L1721.7 796.7 L1720.7 800.7 L1719.7 804.7 L1718.7 808.7 L1717.7 812.7 L1716.7 816.7 L1715.7 820.7 L1714.7 824.7 L1713.7 828.7 L1712.7 832.7 L1711.7 836.7 L1710.7 840.7 L1709.6 844.7 L1708.6 848.7 L1707.5 852.7 L1706.5 856.7 L1705.4 860.7 L1704.4 864.7 L1703.3 868.7 L1702.2 872.7 L1701.2 876.7 L1700.1 880.7 L1699 884.7 L1697.9 888.7 L1696.8 892.7 L1695.7 896.7 L1694.6 900.7 L1693.5 904.7 L1692.3 908.7 L1691.2 912.7 L1690.1 916.7 L1688.9 920.7 L1687.8 924.7 L1686.6 928.7 L1685.4 932.7 L1684.3 936.7 L1683.1 940.7 L1681.9 944.7 L1680.7 948.7 L1679.5 952.7 L1678.3 956.7 L1677 960.7 L1675.8 964.7 L1674.6 968.7 L1673.3 972.7 L1672.1 976.7 L1670.8 980.7 L1669.6 984.7 L1668.3 988.7 L1667 992.7 L1665.7 996.7 L1664.4 1000.7 L1663.1 1004.7 L1661.7 1008.7 L1660.4 1012.7 L1659.1 1016.7 L1657.7 1020.7 L1656.4 1024.7 L1655 1028.7 L1653.6 1032.7 L1652.2 1036.7 L1650.8 1040.7 L1649.4 1044.7 L1648 1048.7 L1646.6 1052.7 L1645.1 1056.7 L1643.7 1060.7 L1642.2 1064.7 L1640.7 1068.7 L1639.3 1072.7 L1637.8 1076.7 L1636.3 1080.7 L1634.7 1084.7 L1633.2 1088.7 L1631.7 1092.7 L1630.1 1096.7 L1628.6 1100.7 L1627 1104.7 L1625.4 1108.7 L1623.8 1112.7 L1622.2 1116.7 L1620.6 1120.7 L1618.9 1124.7 L1617.3 1128.7 L1615.6 1132.7 L1613.9 1136.7 L1612.2 1140.7 L1610.5 1144.7 L1608.8 1148.7 L1607.1 1152.7 L1605.3 1156.7 L1603.6 1160.7 L1601.8 1164.7 L1600 1168.7 L1598.2 1172.7 L1596.4 1176.7 L1594.6 1180.7 L1592.7 1184.7 L1590.9 1188.7 L1589 1192.7 L1587.1 1196.7 L1585.2 1200.7 L1583.3 1204.7 L1581.4 1208.7 L1579.4 1212.7 L1577.5 1216.7 L1575.5 1220.7 L1573.5 1224.7 L1571.5 1228.7 L1569.4 1232.7 L1567.4 1236.7 L1565.3 1240.7 L1563.2 1244.7 L1561.1 1248.7 L1559 1252.7 L1556.9 1256.7 L1554.7 1260.7 L1552.6 1264.7 L1550.4 1268.7 L1548.2 1272.7 L1545.9 1276.7 L1543.7 1280.7 L1541.4 1284.7 L1539.2 1288.7 L1536.9 1292.7 L1534.5 1296.7 L1532.2 1300.7 L1529.9 1304.7 L1527.5 1308.7 L1525.1 1312.7 L1522.7 1316.7 L1520.2 1320.7 L1517.8 1324.7 L1515.3 1328.7 L1512.8 1332.7 L1510.3 1336.7 L1507.7 1340.7 L1505.2 1344.7 L1502.6 1348.7 L1500 1352.7 L1497.4 1356.7 L1494.7 1360.7 L1492 1364.7 L1490.5 1367 L1351.7 1367 L1351 1371 L1350.1 1375 L1349.3 1379 L1348.3 1383 L1347.3 1387 L1346.3 1391 L1345.2 1395 L1344 1399 L1342.8 1403 L1341.6 1407 L1340.4 1411 L1339.1 1415 L1337.7 1419 L1336.3 1423 L1334.7 1427 L1333 1431 L1331.3 1435 L1329.5 1439 L1327.7 1443 L1325.9 1447 L1324.1 1451 L1322.5 1455 L1320.9 1459 L1319.3 1463 L1317.6 1467 L1315.8 1471 L1313.9 1475 L1311.6 1479 L1309 1483 L1305.9 1487 L1302.6 1491 L1298.9 1495 L1296 1498.1"/>
<path stroke="#0000ff" d="M338 1498 L339.9 1497.7 L341.9 1497.5 L343.8 1497.2 L345.7 1496.9 L347.7 1496.6 L349.6 1496.3 L351.5 1496.1 L353.5 1495.8 L355.4 1495.5 L357.3 1495.2 L359.3 1494.9 L361.2 1494.6 L363.1 1494.3 L365.1 1494 L367 1493.7 L368.9 1493.3 L370.9 1493 L372.8 1492.7 L374.7 1492.4 L376.7 1492.1 L378.6 1491.7 L380.5 1491.4 L382.5 1491.1 L384.4 1490.7 L386.3 1490.4 L388.3 1490 L390.2 1489.7 L392.1 1489.3 L394.1 1489 L396 1488.6 L397.9 1488.3 L399.9 1487.9 L401.8 1487.5 L403.7 1487.2 L405.7 1486.8 L407.6 1486.4 L409.5 1486 L411.5 1485.7 L413.4 1485.3 L415.3 1484.9 L417.3 1484.5 L419.2 1484.1 L421.1 1483.7 L423.1 1483.3 L425 1482.9 L426.9 1482.5 L428.9 1482.1 L430.8 1481.7 L432.7 1481.3 L434.7 1480.9 L436.6 1480.4 L438.5 1480 L440.5 1479.6 L442.4 1479.2 L444.3 1478.7 L446.3 1478.3 L448.2 1477.9 L450.1 1477.4 L452.1 1477 L454 1476.5 L455.9 1476.1 L457.9 1475.6 L459.8 1475.2 L461.7 1474.7 L463.7 1474.2 L465.6 1473.8 L467.5 1473.3 L469.5 1472.8 L471.4 1472.4 L473.3 1471.9 L475.3 1471.4 L477.2 1470.9 L479.1 1470.4 L481.1 1469.9 L483 1469.4 L484.9 1468.9 L486.9 1468.4 L488.8 1467.9 L490.7 1467.4 L492.7 1466.9 L494.6 1466.4 L496.5 1465.9 L498.5 1465.4 L500.4 1464.9 L502.3 1464.3 L504.3 1463.8 L506.2 1463.3 L508.1 1462.7 L510.1 1462.2 L512 1461.7 L513.9 1461.1 L515.9 1460.6 L517.8 1460 L519.7 1459.5 L521.7 1458.9 L523.6 1458.4 L525.5 1457.8 L527.5 1457.2 L529.4 1456.7 L531.3 1456.1 L533.3 1455.5 L535.2 1454.9 L537.1 1454.4 L539.1 1453.8 L541 1453.2 L542.9 1452.6 L544.9 1452 L546.8 1451.4 L548.7 1450.8 L550.7 1450.2 L552.6 1449.6 L554.5 1449 L556.5 1448.4 L558.4 1447.8 L560.3 1447.2 L562.3 1446.5 L564.2 1445.9 L566.1 1445.3 L568.1 1444.6 L570 1444 L571.9 1443.4 L573.9 1442.7 L575.8 1442.1 L577.7 1441.5 L579.7 1440.8 L581.6 1440.2 L583.5 1439.5 L585.5 1438.8 L587.4 1438.2 L589.3 1437.5 L591.3 1436.8 L593.2 1436.2 L595.1 1435.5 L597.1 1434.8 L599 1434.1 L600.9 1433.5 L602.9 1432.8 L604.8 1432.1 L606.7 1431.4 L608.7 1430.7 L610.6 1430 L612.5 1429.3 L614.5 1428.6 L616.4 1427.9 L618.3 1427.2 L620.3 1426.5 L622.2 1425.7 L624.1 1425 L626.1 1424.3 L628 1423.6 L629.9 1422.8 L631.9 1422.1 L633.8 1421.4 L635.7 1420.6 L637.7 1419.9 L639.6 1419.1 L641.5 1418.4 L643.5 1417.6 L645.4 1416.9 L647.3 1416.1 L649.3 1415.4 L651.2 1414.6 L653.1 1413.8 L655.1 1413.1 L657 1412.3 L658.9 1411.5 L660.9 1410.7 L662.8 1409.9 L664.7 1409.1 L666.7 1408.4 L668.6 1407.6 L670.5 1406.8 L672.5 1406 L674.4 1405.2 L676.3 1404.4 L678.3 1403.5 L680.2 1402.7 L682.1 1401.9 L684.1 1401.1 L686 1400.3 L687.9 1399.5 L689.9 1398.6 L691.8 1397.8 L693.7 1397 L695.7 1396.1 L697.6 1395.3 L699.5 1394.4 L701.5 1393.6 L703.4 1392.7 L705.3 1391.9 L707.3 1391 L709.2 1390.2 L711.1 1389.3 L713.1 1388.4 L715 1387.6 L716.9 1386.7 L718.9 1385.8 L720.8 1384.9 L722.7 1384.1 L724.7 1383.2 L726.6 1382.3 L728.5 1381.4 L730.5 1380.5 L732.4 1379.6 L734.3 1378.7 L736.3 1377.8 L738.2 1376.9 L740.1 1376 L742.1 1375.1 L744 1374.1 L745.9 1373.2 L747.9 1372.3 L749.8 1371.4 L751.7 1370.4 L753.7 1369.5 L755.6 1368.6 L757.5 1367.6 L759.5 1366.7 L761.4 1365.7 L763.3 1364.8 L765.3 1363.8 L767.2 1362.9 L769.1 1361.9 L771.1 1360.9 L773 1360 L774.9 1359 L776.9 1358 L778.8 1357.1 L780.7 1356.1 L782.7 1355.1 L784.6 1354.1 L786.5 1353.1 L788.5 1352.1 L790.4 1351.1 L792.3 1350.1 L794.3 1349.1 L796.2 1348.1 L798.1 1347.1 L800.1 1346.1 L802 1345.1 L803.9 1344.1 L805.9 1343.1 L807.8 1342 L809.7 1341 L811.7 1340 L813.6 1338.9 L815.5 1337.9 L817.5 1336.9 L819.4 1335.8 L821.3 1334.7 L823.3 1333.6 L825.2 1332.5 L827.1 1331.3 L829.1 1330.1 L831 1328.9 L832.9 1327.7 L834.9 1326.5 L836.8 1325.4 L838.7 1324.3 L840.7 1323.3 L842.6 1322.2 L844.5 1321.1 L846.5 1320 L848.4 1319 L850.3 1317.9 L852.3 1316.9 L854.2 1315.8 L856.1 1314.7 L858.1 1313.7 L860 1312.6 L861.9 1311.5 L863.9 1310.5 L865.8 1309.4 L867.7 1308.4 L869.7 1307.4 L871.6 1306.4 L873.5 1305.4 L875.5 1304.4 L877.4 1303.4 L879.3 1302.5 L881.3 1301.5 L883.2 1300.5 L885.1 1299.4 L887.1 1298.4 L889 1297.3 L890.9 1296.2 L892.9 1295 L894.8 1293.8 L896.7 1292.5 L898.7 1291.2 L900.6 1289.9 L902.5 1288.6 L904.5 1287.3 L906.4 1285.9 L908.3 1284.6 L910.3 1283.2 L912.2 1281.9 L914.1 1280.6 L916.1 1279.4 L918 1278.1 L919.9 1276.9 L921.9 1275.8 L923.8 1274.6 L925.7 1273.4 L927.7 1272.3 L929.6 1271.1 L931.5 1270 L933.5 1268.8 L935.4 1267.7 L937.3 1266.5 L939.3 1265.3 L941.2 1264.1 L943.1 1262.9 L945.1 1261.6 L947 1260.4 L948.9 1259 L950.9 1257.7 L952.8 1256.3 L954.7 1254.8 L956.7 1253.4 L958.6 1251.9 L960.5 1250.4 L962.5 1248.9 L964.4 1247.4 L966.3 1245.9 L968.3 1244.5 L970.2 1243 L972.1 1241.6 L974.1 1240.2 L976 1238.9 L977.9 1237.6 L979.9 1236.3 L981.8 1235 L983.7 1233.7 L985.7 1232.4 L987.6 1231.1 L989.5 1229.8 L991.5 1228.5 L993.4 1227.2 L995.3 1226 L997.3 1224.7 L999.2 1223.4 L1001.1 1222.1 L1003.1 1220.8 L1005 1219.5 L1006.9 1218.2 L1008.9 1216.9 L1010.8 1215.6 L1012.7 1214.3 L1014.7 1213 L1016.6 1211.7 L1018.5 1210.4 L1020.5 1209.2 L1022.4 1207.9 L1024.3 1206.6 L1026.3 1205.3 L1028.2 1204 L1030.2 1202.7 L1032.1 1201.4 L1034 1200.1 L1036 1198.8 L1037.9 1197.5 L1039.8 1196.2 L1041.8 1194.8 L1043.7 1193.5 L1045.6 1192.2 L1047.6 1190.9 L1049.5 1189.5 L1051.4 1188.2 L1053.4 1186.8 L1055.3 1185.4 L1057.2 1184 L1059.2 1182.6 L1061.1 1181.1 L1063 1179.5 L1065 1177.9 L1066.9 1176.2 L1068.8 1174.4 L1070.8 1172.7 L1072.7 1171 L1074.6 1169.4 L1076.6 1167.7 L1078.5 1166.2 L1080.4 1164.7 L1082.4 1163.2 L1084.3 1161.7 L1086.2 1160.2 L1088.2 1158.7 L1090.1 1157.2 L1092 1155.7 L1094 1154.2 L1095.9 1152.7 L1097.8 1151.2 L1099.8 1149.7 L1101.7 1148.1 L1103.6 1146.6 L1105.6 1145.1 L1107.5 1143.6 L1109.4 1142 L1111.4 1140.5 L1113.3 1138.9 L1115.2 1137.4 L1117.2 1135.9 L1119.1 1134.3 L1121 1132.8 L1123 1131.2 L1124.9 1129.7 L1126.8 1128.1 L1128.8 1126.5 L1130.7 1125 L1132.6 1123.4 L1134.6 1121.8 L1136.5 1120.3 L1138.4 1118.7 L1140.4 1117.1 L1142.3 1115.5 L1144.2 1113.9 L1146.2 1112.4 L1148.1 1110.8 L1150 1109.2 L1152 1107.6 L1153.9 1106 L1155.8 1104.4 L1157.8 1102.8 L1159.7 1101.2 L1161.6 1099.6 L1163.6 1098 L1165.5 1096.4 L1167.4 1094.7 L1169.4 1093.1 L1171.3 1091.5 L1173.2 1089.9 L1175.2 1088.3 L1177.1 1086.6 L1179 1085 L1181 1083.4 L1182.9 1081.7 L1184.8 1080.1 L1186.8 1078.5 L1188.7 1076.8 L1190.6 1075.2 L1192.6 1073.5 L1194.5 1071.9 L1196.4 1070.2 L1198.4 1068.6 L1200.3 1066.9 L1202.2 1065.2 L1204.2 1063.6 L1206.1 1061.9 L1208 1060.3 L1210 1058.6 L1211.9 1056.9 L1213.8 1055.2 L1215.8 1053.6 L1217.7 1051.9 L1219.6 1050.2 L1221.6 1048.5 L1223.5 1046.8 L1225.4 1045.2 L1227.4 1043.5 L1229.3 1041.8 L1231.2 1040.1 L1233.2 1038.4 L1235.1 1036.7 L1237 1035 L1239 1033.3 L1240.9 1031.6 L1242.8 1029.9 L1244.8 1028.1 L1246.7 1026.4 L1248.6 1024.7 L1250.6 1023 L1252.5 1021.3 L1254.4 1019.5 L1256.4 1017.8 L1258.3 1016.1 L1260.2 1014.3 L1262.2 1012.6 L1264.1 1010.8 L1266 1009.1 L1268 1007.3 L1269.9 1005.6 L1271.8 1003.8 L1273.8 1002.1 L1275.7 1000.3 L1277.6 998.5 L1279.6 996.8 L1281.5 995 L1283.4 993.2 L1285.4 991.4 L1287.3 989.7 L1289.2 987.9 L1291.2 986.1 L1293.1 984.3 L1295 982.5 L1297 980.7 L1298.9 978.9 L1300.8 977.1 L1302.8 975.3 L1304.7 973.4 L1306.6 971.6 L1308.6 969.8 L1310.5 968 L1312.4 966.1 L1314.4 964.3 L1316.3 962.5 L1318.2 960.6 L1320.2 958.8 L1322.1 956.9 L1324 955.1 L1326 953.2 L1327.9 951.4 L1329.8 949.5 L1331.8 947.6 L1333.7 945.8 L1335.6 943.9 L1337.6 942 L1339.5 940.1 L1341.4 938.2 L1343.4 936.3 L1345.3 934.4 L1347.2 932.5 L1349.2 930.6 L1351.1 928.7 L1353 926.8 L1355 924.9 L1356.9 923 L1358.8 921 L1360.8 919.1 L1362.7 917.2 L1364.6 915.2 L1366.6 913.3 L1368.5 911.3 L1370.4 909.4 L1372.4 907.4 L1374.3 905.5 L1376.2 903.5 L1378.2 901.5 L1380.1 899.5 L1382 897.6 L1384 895.6 L1385.9 893.6 L1387.8 891.6 L1389.8 889.6 L1391.7 887.6 L1393.6 885.6 L1395.6 883.6 L1397.5 881.5 L1399.4 879.5 L1401.4 877.5 L1403.3 875.4 L1405.2 873.4 L1407.2 871.4 L1409.1 869.3 L1411 867.3 L1413 865.2 L1414.9 863.1 L1416.8 861.1 L1418.8 859 L1420.7 856.9 L1422.6 854.8 L1424.6 852.7 L1426.5 850.6 L1428.4 848.5 L1430.4 846.4 L1432.3 844.3 L1434.2 842.2 L1436.2 840.1 L1438.1 837.9 L1440 835.8 L1442 833.7 L1443.9 831.5 L1445.8 829.4 L1447.8 827.2 L1449.7 825 L1451.6 822.9 L1453.6 820.7 L1455.5 818.5 L1457.4 816.3 L1459.4 814.1 L1461.3 811.9 L1463.2 809.7 L1465.2 807.5 L1467.1 805.3 L1469 803.1 L1471 800.9 L1472.9 798.6 L1474.8 796.4 L1476.8 794.2 L1478.7 791.9 L1480.6 789.7 L1482.6 787.4 L1484.5 785.1 L1486.4 782.9 L1488.4 780.6 L1490.3 778.3 L1492.2 776 L1494.2 773.7 L1496.1 771.4 L1498 769.1 L1500 766.8 L1501.9 764.5 L1503.8 762.1 L1505.8 759.8 L1507.7 757.5 L1509.6 755.1 L1511.6 752.8 L1513.5 750.5 L1515.4 748.1 L1517.4 745.8 L1519.3 743.4 L1521.2 741 L1523.2 738.7 L1525.1 736.3 L1527 733.9 L1529 731.5 L1530.9 729.2 L1532.8 726.8 L1534.8 724.4 L1536.7 722 L1538.6 719.6 L1540.6 717.2 L1542.5 714.8 L1544.4 712.4 L1546.4 710 L1548.3 707.6 L1550.2 705.1 L1552.2 702.7 L1554.1 700.3 L1556 697.9 L1558 695.4 L1559.9 693 L1561.8 690.6 L1563.8 688.2 L1565.7 685.7 L1567.6 683.3 L1569.6 680.8 L1571.5 678.4 L1573.4 676 L1575.4 673.5 L1577.3 671.1 L1579.2 668.6 L1581.2 666.2 L1583.1 663.7 L1585 661.3 L1587 658.8 L1588.9 656.4 L1590.8 653.9 L1592.8 651.5 L1594.7 649 L1596.6 646.6 L1598.6 644.1 L1600.5 641.6 L1602.4 639.2 L1604.4 636.7 L1606.3 634.3 L1608.2 631.8 L1610.2 629.3 L1612.1 626.9 L1614 624.4 L1616 622 L1617.9 619.5 L1619.8 617.1 L1621.8 614.6 L1623.7 612.1 L1625.6 609.7 L1627.6 607.2 L1629.5 604.8 L1631.4 602.3 L1633.4 599.9 L1635.3 597.4 L1637.2 595 L1639.2 592.5 L1641.1 590.1 L1643 587.6 L1645 585.2 L1646.9 582.8 L1648.8 580.3 L1650.8 577.9 L1652.7 575.4 L1654.6 573 L1656.6 570.6 L1658.5 568.2 L1660.4 565.7 L1662.4 563.3 L1664.3 560.9 L1666.2 558.5 L1668.2 556 L1670.1 553.6 L1672 551.2 L1674 548.8 L1675.9 546.4 L1677.8 544 L1679.8 541.6 L1681.7 539.1 L1683.6 536.7 L1685.6 534.3 L1687.5 531.9 L1689.4 529.5 L1691.4 527.1 L1693.3 524.6 L1695.2 522.2 L1697.2 519.8 L1699.1 517.3 L1701 514.9 L1703 512.4 L1704.9 510 L1706.8 507.5 L1708.8 505 L1710.7 502.5 L1712.6 500.1 L1714.6 497.6 L1716.5 495.1 L1718.4 492.6 L1720.4 490 L1722.3 487.5 L1724.2 485 L1726.2 482.4 L1728.1 479.9 L1730 477.3 L1732 474.7 L1733.9 472.1 L1735.8 469.5 L1737.8 466.9 L1739.7 464.2 L1741.6 461.6 L1743.6 458.9 L1745.5 456.3 L1747.4 453.6 L1749.4 450.9 L1751.3 448.2 L1753.2 445.5 L1755.2 442.7 L1757.1 440 L1759 437.2 L1761 434.5 L1762.9 431.7 L1764.8 428.9 L1766.8 426.1 L1768.7 423.3 L1770.6 420.5 L1772.6 417.6 L1774.5 414.8 L1776.4 411.9 L1778.4 409.1 L1780.3 406.2 L1782.2 403.3 L1784.2 400.4 L1786.1 397.5 L1788 394.6 L1790 391.7 L1791.9 388.7 L1793.8 385.8 L1795.8 382.8 L1797.7 379.8 L1799.6 376.8 L1801.6 373.9 L1803.5 370.9 L1805.4 367.8 L1807.4 364.8 L1809.3 361.8 L1811.2 358.7 L1813.2 355.7 L1815.1 352.6 L1817 349.6 L1819 346.5 L1820.9 343.4 L1822.8 340.3 L1824.8 337.2 L1826.7 334.1 L1828.6 330.9 L1830.6 327.8 L1832.5 324.7 L1834.4 321.5 L1836.4 318.3 L1838.3 315.2 L1840.2 312 L1842.2 308.8 L1844.1 305.6 L1846 302.4 L1848 299.2 L1849.9 295.9 L1851.8 292.7 L1853.8 289.5 L1855.7 286.2 L1857.6 283 L1859.6 279.7 L1861.5 276.4 L1863.4 273.1 L1865.4 269.8 L1867.3 266.5 L1869.2 263.2 L1871.2 259.9 L1873.1 256.6 L1875 253.3 L1877 249.9 L1878.9 246.6 L1880.8 243.2 L1882.8 239.9 L1884.7 236.5 L1886.6 233.1 L1888.6 229.7 L1890.5 226.3 L1892.4 222.9 L1894.4 219.5 L1896.3 216 L1898.2 212.5 L1900.2 209 L1902.1 205.5 L1904 202 L1906 198.5 L1907.9 194.9 L1909.8 191.3 L1911.8 187.7 L1913.7 184 L1915.6 180.3 L1917.6 176.6 L1919.5 172.9 L1921.4 169.1 L1923.4 165.3 L1923.7 164.7 L2054.8 164.7 L2054.2 168.7 L2053.6 172.7 L2052.9 176.7 L2052.3 180.7 L2051.7 184.7 L2051.1 188.7 L2050.4 192.7 L2049.8 196.7 L2049.2 200.7 L2048.5 204.7 L2047.9 208.7 L2047.2 212.7 L2046.6 216.7 L2045.9 220.7 L2045.3 224.7 L2044.6 228.7 L2044 232.7 L2043.3 236.7 L2042.7 240.7 L2042 244.7 L2041.3 248.7 L2040.7 252.7 L2040 256.7 L2039.3 260.7 L2038.6 264.7 L2038 268.7 L2037.3 272.7 L2036.6 276.7 L2035.9 280.7 L2035.2 284.7 L2034.5 288.7 L2033.8 292.7 L2033.1 296.7 L2032.4 300.7 L2031.7 304.7 L2030.9 308.7 L2030.2 312.7 L2029.5 316.7 L2028.7 320.7 L2028 324.7 L2027.3 328.7 L2026.5 332.7 L2025.8 336.7 L2025 340.7 L2024.3 344.7 L2023.5 348.7 L2022.7 352.7 L2022 356.7 L2021.2 360.7 L2020.4 364.7 L2019.6 368.7 L2018.9 372.7 L2018.1 376.7 L2017.3 380.7 L2016.5 384.7 L2015.7 388.7 L2014.9 392.7 L2014.1 396.7 L2013.2 400.7 L2012.4 404.7 L2011.6 408.7 L2010.8 412.7 L2009.9 416.7 L2009.1 420.7 L2008.3 424.7 L2007.4 428.7 L2006.6 432.7 L2005.7 436.7 L2004.9 440.7 L2004 444.7 L2003.2 448.7 L2002.3 452.7 L2001.4 456.7 L2000.6 460.7 L1999.7 464.7 L1998.8 468.7 L1997.9 472.7 L1997 476.7 L1996.1 480.7 L1995.3 484.7 L1994.4 488.7 L1993.5 492.7 L1992.6 496.7 L1991.7 500.7 L1990.7 504.7 L1989.8 508.7 L1988.9 512.7 L1988 516.7 L1987.1 520.7 L1986.1 524.7 L1985.2 528.7 L1984.3 532.7 L1983.4 536.7 L1982.4 540.7 L1981.5 544.7 L1980.5 548.7 L1979.6 552.7 L1978.6 556.7 L1977.7 560.7 L1976.7 564.7 L1975.8 568.7 L1974.8 572.7 L1973.9 576.7 L1972.9 580.7 L1971.9 584.7 L1971 588.7 L1970 592.7 L1969 596.7 L1968.1 600.7 L1967.1 604.7 L1966.1 608.7 L1965.1 612.7 L1964.1 616.7 L1963.2 620.7 L1962.2 624.7 L1961.2 628.7 L1960.2 632.7 L1959.2 636.7 L1958.2 640.7 L1957.2 644.7 L1956.2 648.7 L1955.2 652.7 L1954.2 656.7 L1953.2 660.7 L1952.2 664.7 L1951.2 668.7 L1950.2 672.7 L1949.2 676.7 L1948.2 680.7 L1947.2 684.7 L1946.2 688.7 L1945.2 692.7 L1944.1 696.7 L1943.1 700.7 L1942.1 704.7 L1941.1 708.7 L1940.1 712.7 L1939.1 716.7 L1938 720.7 L1937 724.7 L1936 728.7 L1935 732.7 L1933.9 736.7 L1932.9 740.7 L1931.9 744.7 L1930.8 748.7 L1929.8 752.7 L1928.8 756.7 L1927.7 760.7 L1926.7 764.7 L1925.7 768.7 L1924.6 772.7 L1923.6 776.7 L1922.5 780.7 L1921.5 784.7 L1920.5 788.7 L1919.4 792.7 L1918.4 796.7 L1917.3 800.7 L1916.3 804.7 L1915.2 808.7 L1914.2 812.7 L1913.1 816.7 L1912 820.7 L1911 824.7 L1909.9 828.7 L1908.9 832.7 L1907.8 836.7 L1906.7 840.7 L1905.7 844.7 L1904.6 848.7 L1903.5 852.7 L1902.5 856.7 L1901.4 860.7 L1900.3 864.7 L1899.2 868.7 L1898.1 872.7 L1897 876.7 L1896 880.7 L1894.9 884.7 L1893.8 888.7 L1892.7 892.7 L1891.6 896.7 L1890.5 900.7 L1889.3 904.7 L1888.2 908.7 L1887.1 912.7 L1886 916.7 L1884.9 920.7 L1883.8 924.7 L1882.6 928.7 L1881.5 932.7 L1880.3 936.7 L1879.2 940.7 L1878.1 944.7 L1876.9 948.7 L1875.7 952.7 L1874.6 956.7 L1873.4 960.7 L1872.2 964.7 L1871 968.7 L1869.9 972.7 L1868.7 976.7 L1867.5 980.7 L1866.3 984.7 L1865.1 988.7 L1863.8 992.7 L1862.6 996.7 L1861.4 1000.7 L1860.1 1004.7 L1858.9 1008.7 L1857.6 1012.7 L1856.4 1016.7 L1855.1 1020.7 L1853.8 1024.7 L1852.5 1028.7 L1851.2 1032.7 L1849.9 1036.7 L1848.6 1040.7 L1847.3 1044.7 L1845.9 1048.7 L1844.6 1052.7 L1843.2 1056.7 L1841.8 1060.7 L1840.5 1064.7 L1839.1 1068.7 L1837.7 1072.7 L1836.2 1076.7 L1834.8 1080.7 L1833.4 1084.7 L1831.9 1088.7 L1830.4 1092.7 L1829 1096.7 L1827.5 1100.7 L1825.9 1104.7 L1824.4 1108.7 L1822.9 1112.7 L1821.3 1116.7 L1819.7 1120.7 L1818.2 1124.7 L1816.5 1128.7 L1814.9 1132.7 L1813.3 1136.7 L1811.6 1140.7 L1809.9 1144.7 L1808.2 1148.7 L1806.5 1152.7 L1804.8 1156.7 L1803 1160.7 L1801.3 1164.7 L1799.5 1168.7 L1797.7 1172.7 L1795.8 1176.7 L1794 1180.7 L1792.1 1184.7 L1790.2 1188.7 L1788.2 1192.7 L1786.3 1196.7 L1784.3 1200.7 L1782.3 1204.7 L1780.3 1208.7 L1778.2 1212.7 L1776.1 1216.7 L1774 1220.7 L1771.9 1224.7 L1769.7 1228.7 L1767.5 1232.7 L1765.3 1236.7 L1763 1240.7 L1760.7 1244.7 L1758.4 1248.7 L1756.1 1252.7 L1753.7 1256.7 L1751.3 1260.7 L1748.8 1264.7 L1746.4 1268.7 L1743.8 1272.7 L1741.3 1276.7 L1738.7 1280.7 L1736.1 1284.7 L1733.4 1288.7 L1730.7 1292.7 L1728 1296.7 L1725.2 1300.7 L1722.4 1304.7 L1719.5 1308.7 L1716.6 1312.7 L1713.7 1316.7 L1710.7 1320.7 L1707.7 1324.7 L1704.6 1328.7 L1701.5 1332.7 L1698.3 1336.7 L1695.1 1340.7 L1691.9 1344.7 L1688.6 1348.7 L1685.2 1352.7 L1681.8 1356.7 L1678.4 1360.7 L1674.9 1364.7 L1672.8 1367 L1526.9 1367 L1526.1 1371 L1525.3 1375 L1524.5 1379 L1523.6 1383 L1522.6 1387 L1521.7 1391 L1520.7 1395 L1519.6 1399 L1518.5 1403 L1517.4 1407 L1516.3 1411 L1515.2 1415 L1514 1419 L1512.7 1423 L1511.4 1427 L1510 1431 L1508.6 1435 L1507.1 1439 L1505.5 1443 L1503.8 1447 L1502.1 1451 L1500.2 1455 L1498.3 1459 L1496.2 1463 L1494 1467 L1491.7 1471 L1489.2 1475 L1486.6 1479 L1483.7 1483 L1480.4 1487 L1476.6 1491 L1471.6 1495 L1465.9 1498.7"/>
<path stroke="#008000" d="M338 1498 L339.9 1497.7 L341.9 1497.4 L343.8 1497.2 L345.7 1496.9 L347.7 1496.6 L349.6 1496.3 L351.5 1495.9 L353.5 1495.6 L355.4 1495.3 L357.3 1495 L359.3 1494.6 L361.2 1494.3 L363.1 1493.9 L365.1 1493.6 L367 1493.2 L368.9 1492.8 L370.9 1492.5 L372.8 1492.1 L374.7 1491.7 L376.7 1491.3 L378.6 1490.9 L380.5 1490.5 L382.5 1490.1 L384.4 1489.7 L386.3 1489.3 L388.3 1488.8 L390.2 1488.4 L392.1 1488 L394.1 1487.5 L396 1487.1 L397.9 1486.6 L399.9 1486.2 L401.8 1485.7 L403.7 1485.2 L405.7 1484.7 L407.6 1484.3 L409.5 1483.8 L411.5 1483.3 L413.4 1482.8 L415.3 1482.3 L417.3 1481.8 L419.2 1481.2 L421.1 1480.7 L423.1 1480.2 L425 1479.7 L426.9 1479.1 L428.9 1478.6 L430.8 1478 L432.7 1477.5 L434.7 1476.9 L436.6 1476.3 L438.5 1475.8 L440.5 1475.2 L442.4 1474.6 L444.3 1474 L446.3 1473.4 L448.2 1472.8 L450.1 1472.2 L452.1 1471.6 L454 1471 L455.9 1470.4 L457.9 1469.7 L459.8 1469.1 L461.7 1468.5 L463.7 1467.8 L465.6 1467.2 L467.5 1466.5 L469.5 1465.9 L471.4 1465.2 L473.3 1464.5 L475.3 1463.9 L477.2 1463.2 L479.1 1462.5 L481.1 1461.8 L483 1461.1 L484.9 1460.4 L486.9 1459.7 L488.8 1459 L490.7 1458.3 L492.7 1457.6 L494.6 1456.9 L496.5 1456.1 L498.5 1455.4 L500.4 1454.7 L502.3 1453.9 L504.3 1453.2 L506.2 1452.4 L508.1 1451.7 L510.1 1450.9 L512 1450.1 L513.9 1449.4 L515.9 1448.6 L517.8 1447.8 L519.7 1447 L521.7 1446.2 L523.6 1445.4 L525.5 1444.6 L527.5 1443.8 L529.4 1443 L531.3 1442.2 L533.3 1441.4 L535.2 1440.6 L537.1 1439.7 L539.1 1438.9 L541 1438.1 L542.9 1437.2 L544.9 1436.4 L546.8 1435.5 L548.7 1434.7 L550.7 1433.8 L552.6 1433 L554.5 1432.1 L556.5 1431.2 L558.4 1430.3 L560.3 1429.5 L562.3 1428.6 L564.2 1427.7 L566.1 1426.8 L568.1 1425.9 L570 1425 L571.9 1424.1 L573.9 1423.2 L575.8 1422.3 L577.7 1421.3 L579.7 1420.4 L581.6 1419.5 L583.5 1418.5 L585.5 1417.6 L587.4 1416.7 L589.3 1415.7 L591.3 1414.8 L593.2 1413.8 L595.1 1412.9 L597.1 1411.9 L599 1410.9 L600.9 1410 L602.9 1409 L604.8 1408 L606.7 1407 L608.7 1406.1 L610.6 1405.1 L612.5 1404.1 L614.5 1403.1 L616.4 1402.1 L618.3 1401.1 L620.3 1400.1 L622.2 1399 L624.1 1398 L626.1 1397 L628 1396 L629.9 1395 L631.9 1393.9 L633.8 1392.9 L635.7 1391.8 L637.7 1390.8 L639.6 1389.8 L641.5 1388.7 L643.5 1387.6 L645.4 1386.6 L647.3 1385.5 L649.3 1384.5 L651.2 1383.4 L653.1 1382.3 L655.1 1381.2 L657 1380.2 L658.9 1379.1 L660.9 1378 L662.8 1376.9 L664.7 1375.8 L666.7 1374.7 L668.6 1373.6 L670.5 1372.5 L672.5 1371.4 L674.4 1370.3 L676.3 1369.2 L678.3 1368.1 L680.2 1366.9 L682.1 1365.8 L684.1 1364.7 L686 1363.5 L687.9 1362.4 L689.9 1361.3 L691.8 1360.1 L693.7 1359 L695.7 1357.8 L697.6 1356.7 L699.5 1355.5 L701.5 1354.4 L703.4 1353.2 L705.3 1352 L707.3 1350.9 L709.2 1349.7 L711.1 1348.5 L713.1 1347.4 L715 1346.2 L716.9 1345 L718.9 1343.8 L720.8 1342.6 L722.7 1341.4 L724.7 1340.2 L726.6 1339 L728.5 1337.8 L730.5 1336.6 L732.4 1335.4 L734.3 1334.2 L736.3 1333 L738.2 1331.8 L740.1 1330.6 L742.1 1329.3 L744 1328.1 L745.9 1326.9 L747.9 1325.7 L749.8 1324.4 L751.7 1323.2 L753.7 1322 L755.6 1320.7 L757.5 1319.5 L759.5 1318.2 L761.4 1317 L763.3 1315.7 L765.3 1314.5 L767.2 1313.2 L769.1 1312 L771.1 1310.7 L773 1309.4 L774.9 1308.2 L776.9 1306.9 L778.8 1305.6 L780.7 1304.3 L782.7 1303 L784.6 1301.7 L786.5 1300.4 L788.5 1299.1 L790.4 1297.8 L792.3 1296.5 L794.3 1295.1 L796.2 1293.8 L798.1 1292.3 L800.1 1290.8 L802 1289.3 L803.9 1287.7 L805.9 1286.1 L807.8 1284.6 L809.7 1283.2 L811.7 1281.8 L813.6 1280.3 L815.5 1278.9 L817.5 1277.5 L819.4 1276.1 L821.3 1274.8 L823.3 1273.7 L825.2 1273.2 L827.1 1272.9 L829.1 1272.3 L831 1271.2 L832.9 1269.8 L834.9 1268.3 L836.8 1266.8 L838.7 1265.3 L840.7 1263.9 L842.6 1262.5 L844.5 1261.1 L846.5 1259.7 L848.4 1258.3 L850.3 1257 L852.3 1255.6 L854.2 1254.1 L856.1 1252.5 L858.1 1250.8 L860 1249.2 L861.9 1247.7 L863.9 1246.3 L865.8 1245.1 L867.7 1244.3 L869.7 1243.9 L871.6 1243.6 L873.5 1243.3 L875.5 1242.8 L877.4 1242.3 L879.3 1241.9 L881.3 1241.4 L883.2 1240.6 L885.1 1239.6 L887.1 1238.3 L889 1236.7 L890.9 1234.9 L892.9 1233 L894.8 1230.4 L896.7 1227.6 L898.7 1225.1 L900.6 1223.2 L902.5 1221.7 L904.5 1220.5 L906.4 1219.3 L908.3 1218.1 L910.3 1216.8 L912.2 1215.5 L914.1 1214.2 L916.1 1212.5 L918 1210.5 L919.9 1208.4 L921.9 1206.2 L923.8 1204 L925.7 1201.7 L927.7 1199.4 L929.6 1196.9 L931.5 1194.2 L933.5 1191.5 L935.4 1188.9 L937.3 1186.4 L939.3 1183.8 L941.2 1181.2 L943.1 1178.7 L945.1 1176.3 L947 1174.3 L948.9 1172.6 L950.9 1170.5 L952.8 1168.2 L954.7 1165.8 L956.7 1163.3 L958.6 1160.9 L960.5 1158.5 L962.5 1156.1 L964.4 1153.8 L966.3 1151.6 L968.3 1149.4 L970.2 1147.3 L972.1 1145.2 L974.1 1143.2 L976 1141.2 L977.9 1139.2 L979.9 1137.2 L981.8 1135.2 L983.7 1133.3 L985.7 1131.3 L987.6 1129.4 L989.5 1127.5 L991.5 1125.5 L993.4 1123.6 L995.3 1121.6 L997.3 1119.7 L999.2 1117.8 L1001.1 1115.8 L1003.1 1113.9 L1005 1112 L1006.9 1110.1 L1008.9 1108.1 L1010.8 1106.2 L1012.7 1104.3 L1014.7 1102.4 L1016.6 1100.6 L1018.5 1098.7 L1020.5 1096.8 L1022.4 1095 L1024.3 1093.3 L1026.3 1091.5 L1028.2 1089.8 L1030.2 1088 L1032.1 1086.1 L1034 1084.1 L1036 1082.2 L1037.9 1080.3 L1039.8 1078.4 L1041.8 1076.5 L1043.7 1074.5 L1045.6 1072.6 L1047.6 1070.7 L1049.5 1068.8 L1051.4 1066.8 L1053.4 1064.9 L1055.3 1063 L1057.2 1061 L1059.2 1059.1 L1061.1 1057.2 L1063 1055.3 L1065 1053.3 L1066.9 1051.4 L1068.8 1049.5 L1070.8 1047.5 L1072.7 1045.6 L1074.6 1043.7 L1076.6 1041.7 L1078.5 1039.8 L1080.4 1037.8 L1082.4 1035.9 L1084.3 1033.9 L1086.2 1032 L1088.2 1030 L1090.1 1028.1 L1092 1026.1 L1094 1024.2 L1095.9 1022.2 L1097.8 1020.2 L1099.8 1018.3 L1101.7 1016.3 L1103.6 1014.3 L1105.6 1012.4 L1107.5 1010.4 L1109.4 1008.4 L1111.4 1006.4 L1113.3 1004.4 L1115.2 1002.4 L1117.2 1000.4 L1119.1 998.4 L1121 996.4 L1123 994.4 L1124.9 992.4 L1126.8 990.4 L1128.8 988.4 L1130.7 986.3 L1132.6 984.3 L1134.6 982.3 L1136.5 980.2 L1138.4 978.2 L1140.4 976.1 L1142.3 974.1 L1144.2 972 L1146.2 970 L1148.1 967.9 L1150 965.8 L1152 963.7 L1153.9 961.7 L1155.8 959.6 L1157.8 957.5 L1159.7 955.4 L1161.6 953.3 L1163.6 951.1 L1165.5 949 L1167.4 946.9 L1169.4 944.8 L1171.3 942.6 L1173.2 940.5 L1175.2 938.3 L1177.1 936.2 L1179 934 L1181 931.9 L1182.9 929.7 L1184.8 927.5 L1186.8 925.3 L1188.7 923.1 L1190.6 920.9 L1192.6 918.7 L1194.5 916.5 L1196.4 914.3 L1198.4 912 L1200.3 909.8 L1202.2 907.5 L1204.2 905.3 L1206.1 903 L1208 900.7 L1210 898.5 L1211.9 896.2 L1213.8 893.9 L1215.8 891.6 L1217.7 889.3 L1219.6 887 L1221.6 884.8 L1223.5 882.6 L1225.4 880.4 L1227.4 878.2 L1229.3 876 L1231.2 873.8 L1233.2 871.6 L1235.1 869.4 L1237 867.2 L1239 864.9 L1240.9 862.6 L1242.8 860.3 L1244.8 857.9 L1246.7 855.4 L1248.6 852.8 L1250.6 850.1 L1252.5 847.4 L1254.4 844.7 L1256.4 842 L1258.3 839.3 L1260.2 836.8 L1262.2 834.3 L1264.1 831.8 L1266 829.3 L1268 826.9 L1269.9 824.4 L1271.8 821.9 L1273.8 819.5 L1275.7 817 L1277.6 814.5 L1279.6 812 L1281.5 809.6 L1283.4 807.1 L1285.4 804.7 L1287.3 802.4 L1289.2 800.1 L1291.2 797.9 L1293.1 795.7 L1295 793.5 L1297 791.1 L1298.9 788.6 L1300.8 786 L1302.8 783.4 L1304.7 780.8 L1306.6 778.2 L1308.6 775.7 L1310.5 773.1 L1312.4 770.6 L1314.4 768 L1316.3 765.5 L1318.2 763 L1320.2 760.5 L1322.1 758 L1324 755.4 L1326 752.9 L1327.9 750.2 L1329.8 747.3 L1331.8 744.4 L1333.7 741.5 L1335.6 738.7 L1337.6 736.2 L1339.5 733.8 L1341.4 731.6 L1343.4 729.4 L1345.3 727.2 L1347.2 725.2 L1349.2 723.2 L1351.1 721.4 L1353 719.5 L1355 717.7 L1356.9 715.7 L1358.8 713.7 L1360.8 711.7 L1362.7 709.7 L1364.6 707.6 L1366.6 705.6 L1368.5 703.5 L1370.4 701.3 L1372.4 699.1 L1374.3 696.8 L1376.2 694.4 L1378.2 692 L1380.1 689.4 L1382 686.6 L1384 683.7 L1385.9 680.6 L1387.8 677.5 L1389.8 674.3 L1391.7 671.1 L1393.6 667.8 L1395.6 664.5 L1397.5 661.2 L1399.4 658 L1401.4 654.8 L1403.3 651.6 L1405.2 648.2 L1407.2 644.9 L1409.1 641.6 L1411 638.3 L1413 635 L1414.9 631.8 L1416.8 628.6 L1418.8 625.6 L1420.7 622.7 L1422.6 619.8 L1424.6 617.1 L1426.5 614.4 L1428.4 611.8 L1430.4 609.2 L1432.3 606.7 L1434.2 604.1 L1436.2 601.5 L1438.1 599 L1440 596.5 L1442 594 L1443.9 591.6 L1445.8 589.1 L1447.8 586.5 L1449.7 583.8 L1451.6 581.1 L1453.6 578.3 L1455.5 575.6 L1457.4 572.8 L1459.4 570 L1461.3 567.3 L1463.2 564.5 L1465.2 561.6 L1467.1 558.6 L1469 555.6 L1471 552.8 L1472.9 550.1 L1474.8 547.6 L1476.8 545.2 L1478.7 542.9 L1480.6 540.6 L1482.6 538.4 L1484.5 536.1 L1486.4 533.8 L1488.4 531.4 L1490.3 529 L1492.2 526.7 L1494.2 524.3 L1496.1 521.9 L1498 519.6 L1500 517.5 L1501.9 515.5 L1503.8 513.2 L1505.8 510.5 L1507.7 507.5 L1509.6 504.2 L1511.6 500.7 L1513.5 497.1 L1515.4 493.4 L1517.4 489.7 L1519.3 486 L1521.2 482.3 L1523.2 478.7 L1525.1 475.2 L1527 471.9 L1529 468.8 L1530.9 465.6 L1532.8 462.4 L1534.8 459.2 L1536.7 456 L1538.6 452.8 L1540.6 449.6 L1542.5 446.4 L1544.4 443.2 L1546.4 439.9 L1548.3 436.7 L1550.2 433.4 L1552.2 430.2 L1554.1 426.9 L1556 423.6 L1558 420.3 L1559.9 417 L1561.8 413.7 L1563.8 410.4 L1565.7 407.2 L1567.6 403.8 L1569.6 400.5 L1571.5 397.2 L1573.4 393.9 L1575.4 390.5 L1577.3 387.2 L1579.2 383.8 L1581.2 380.4 L1583.1 377 L1585 373.6 L1587 370.2 L1588.9 366.7 L1590.8 363.3 L1592.8 359.9 L1594.7 356.5 L1596.6 353.1 L1598.6 349.7 L1600.5 346.3 L1602.4 343.1 L1604.4 339.9 L1606.3 336.8 L1608.2 333.6 L1610.2 330.4 L1612.1 327.2 L1614 323.8 L1616 320.4 L1617.9 316.8 L1619.8 313.3 L1621.8 309.7 L1623.7 306.2 L1625.6 302.7 L1627.6 299.2 L1629.5 295.8 L1631.4 292.3 L1633.4 288.9 L1635.3 285.4 L1637.2 282 L1639.2 278.6 L1641.1 275.1 L1643 271.7 L1645 268.3 L1646.9 264.9 L1648.8 261.5 L1650.8 258.1 L1652.7 254.7 L1654.6 251.2 L1656.6 247.8 L1658.5 244.4 L1660.4 241 L1662.4 237.6 L1664.3 234.2 L1666.2 230.8 L1668.2 227.4 L1670.1 224 L1672 220.6 L1674 217.2 L1675.9 213.8 L1677.8 210.3 L1679.8 206.9 L1681.7 203.5 L1683.6 200.1 L1685.6 196.7 L1687.5 193.3 L1689.4 189.9 L1691.4 186.5 L1693.3 183.1 L1695.2 179.7 L1697.2 176.3 L1699.1 172.9 L1701 169.6 L1703 166.2 L1703.8 164.7 L1818 164.7 L1817.4 168.7 L1816.8 172.7 L1816.2 176.7 L1815.6 180.7 L1815 184.7 L1814.4 188.7 L1813.7 192.7 L1813.1 196.7 L1812.5 200.7 L1811.9 204.7 L1811.3 208.7 L1810.6 212.7 L1810 216.7 L1809.4 220.7 L1808.8 224.7 L1808.1 228.7 L1807.5 232.7 L1806.8 236.7 L1806.2 240.7 L1805.6 244.7 L1804.9 248.7 L1804.3 252.7 L1803.6 256.7 L1803 260.7 L1802.3 264.7 L1801.7 268.7 L1801 272.7 L1800.3 276.7 L1799.7 280.7 L1799 284.7 L1798.3 288.7 L1797.7 292.7 L1797 296.7 L1796.3 300.7 L1795.6 304.7 L1795 308.7 L1794.3 312.7 L1793.6 316.7 L1792.9 320.7 L1792.2 324.7 L1791.5 328.7 L1790.8 332.7 L1790.1 336.7 L1789.4 340.7 L1788.7 344.7 L1788 348.7 L1787.3 352.7 L1786.5 356.7 L1785.8 360.7 L1785.1 364.7 L1784.4 368.7 L1783.6 372.7 L1782.9 376.7 L1782.2 380.7 L1781.4 384.7 L1780.7 388.7 L1779.9 392.7 L1779.2 396.7 L1778.4 400.7 L1777.7 404.7 L1776.9 408.7 L1776.2 412.7 L1775.4 416.7 L1774.6 420.7 L1773.9 424.7 L1773.1 428.7 L1772.3 432.7 L1771.6 436.7 L1770.8 440.7 L1770 444.7 L1769.2 448.7 L1768.4 452.7 L1767.6 456.7 L1766.8 460.7 L1766 464.7 L1765.2 468.7 L1764.4 472.7 L1763.6 476.7 L1762.8 480.7 L1762 484.7 L1761.2 488.7 L1760.4 492.7 L1759.6 496.7 L1758.8 500.7 L1758 504.7 L1757.1 508.7 L1756.3 512.7 L1755.5 516.7 L1754.6 520.7 L1753.8 524.7 L1753 528.7 L1752.1 532.7 L1751.3 536.7 L1750.5 540.7 L1749.6 544.7 L1748.8 548.7 L1747.9 552.7 L1747.1 556.7 L1746.2 560.7 L1745.4 564.7 L1744.5 568.7 L1743.6 572.7 L1742.8 576.7 L1741.9 580.7 L1741 584.7 L1740.2 588.7 L1739.3 592.7 L1738.4 596.7 L1737.5 600.7 L1736.7 604.7 L1735.8 608.7 L1734.9 612.7 L1734 616.7 L1733.1 620.7 L1732.3 624.7 L1731.4 628.7 L1730.5 632.7 L1729.6 636.7 L1728.7 640.7 L1727.8 644.7 L1726.9 648.7 L1726 652.7 L1725.1 656.7 L1724.2 660.7 L1723.3 664.7 L1722.4 668.7 L1721.5 672.7 L1720.6 676.7 L1719.6 680.7 L1718.7 684.7 L1717.8 688.7 L1716.9 692.7 L1716 696.7 L1715 700.7 L1714.1 704.7 L1713.2 708.7 L1712.3 712.7 L1711.3 716.7 L1710.4 720.7 L1709.5 724.7 L1708.5 728.7 L1707.6 732.7 L1706.7 736.7 L1705.7 740.7 L1704.8 744.7 L1703.8 748.7 L1702.9 752.7 L1701.9 756.7 L1701 760.7 L1700 764.7 L1699.1 768.7 L1698.1 772.7 L1697.2 776.7 L1696.2 780.7 L1695.2 784.7 L1694.3 788.7 L1693.3 792.7 L1692.3 796.7 L1691.4 800.7 L1690.4 804.7 L1689.4 808.7 L1688.4 812.7 L1687.5 816.7 L1686.5 820.7 L1685.5 824.7 L1684.5 828.7 L1683.5 832.7 L1682.5 836.7 L1681.5 840.7 L1680.5 844.7 L1679.5 848.7 L1678.5 852.7 L1677.5 856.7 L1676.5 860.7 L1675.5 864.7 L1674.5 868.7 L1673.4 872.7 L1672.4 876.7 L1671.4 880.7 L1670.4 884.7 L1669.3 888.7 L1668.3 892.7 L1667.2 896.7 L1666.2 900.7 L1665.1 904.7 L1664.1 908.7 L1663 912.7 L1662 916.7 L1660.9 920.7 L1659.8 924.7 L1658.8 928.7 L1657.7 932.7 L1656.6 936.7 L1655.5 940.7 L1654.4 944.7 L1653.3 948.7 L1652.2 952.7 L1651.1 956.7 L1650 960.7 L1648.9 964.7 L1647.8 968.7 L1646.6 972.7 L1645.5 976.7 L1644.3 980.7 L1643.2 984.7 L1642 988.7 L1640.9 992.7 L1639.7 996.7 L1638.5 1000.7 L1637.4 1004.7 L1636.2 1008.7 L1635 1012.7 L1633.8 1016.7 L1632.6 1020.7 L1631.4 1024.7 L1630.1 1028.7 L1628.9 1032.7 L1627.7 1036.7 L1626.4 1040.7 L1625.2 1044.7 L1623.9 1048.7 L1622.6 1052.7 L1621.3 1056.7 L1620 1060.7 L1618.7 1064.7 L1617.4 1068.7 L1616.1 1072.7 L1614.8 1076.7 L1613.4 1080.7 L1612.1 1084.7 L1610.7 1088.7 L1609.3 1092.7 L1608 1096.7 L1606.6 1100.7 L1605.2 1104.7 L1603.7 1108.7 L1602.3 1112.7 L1600.9 1116.7 L1599.4 1120.7 L1597.9 1124.7 L1596.4 1128.7 L1595 1132.7 L1593.4 1136.7 L1591.9 1140.7 L1590.4 1144.7 L1588.8 1148.7 L1587.3 1152.7 L1585.7 1156.7 L1584.1 1160.7 L1582.5 1164.7 L1580.8 1168.7 L1579.2 1172.7 L1577.5 1176.7 L1575.9 1180.7 L1574.2 1184.7 L1572.5 1188.7 L1570.7 1192.7 L1569 1196.7 L1567.2 1200.7 L1565.4 1204.7 L1563.6 1208.7 L1561.8 1212.7 L1560 1216.7 L1558.1 1220.7 L1556.2 1224.7 L1554.3 1228.7 L1552.4 1232.7 L1550.5 1236.7 L1548.5 1240.7 L1546.5 1244.7 L1544.5 1248.7 L1542.5 1252.7 L1540.4 1256.7 L1538.3 1260.7 L1536.2 1264.7 L1534.1 1268.7 L1532 1272.7 L1529.8 1276.7 L1527.6 1280.7 L1525.3 1284.7 L1523.1 1288.7 L1520.8 1292.7 L1518.5 1296.7 L1516.2 1300.7 L1513.8 1304.7 L1511.4 1308.7 L1509 1312.7 L1506.5 1316.7 L1504 1320.7 L1501.5 1324.7 L1499 1328.7 L1496.4 1332.7 L1493.8 1336.7 L1491.2 1340.7 L1488.5 1344.7 L1485.8 1348.7 L1483.1 1352.7 L1480.3 1356.7 L1477.5 1360.7 L1475.5 1363.5 L1323.8 1363.5 L1323 1367.5 L1322.1 1371.5 L1321.2 1375.5 L1320.2 1379.5 L1319.2 1383.5 L1318.1 1387.5 L1317 1391.5 L1315.9 1395.5 L1314.7 1399.5 L1313.5 1403.5 L1312.2 1407.5 L1310.9 1411.5 L1309.6 1415.5 L1308.1 1419.5 L1306.6 1423.5 L1305.1 1427.5 L1303.5 1431.5 L1301.9 1435.5 L1300.2 1439.5 L1298.5 1443.5 L1296.9 1447.5 L1295.2 1451.5 L1293.4 1455.5 L1291.6 1459.5 L1289.8 1463.5 L1287.9 1467.5 L1286 1471.5 L1284.1 1475.5 L1282.2 1479.5 L1280.2 1483.5 L1278.2 1487.5 L1276.2 1491.5 L1274.1 1495.5 L1273.2 1497.3"/>
<path stroke="#8000ff" d="M338 1498 L339.9 1497.7 L341.9 1497.4 L343.8 1497 L345.7 1496.7 L347.7 1496.4 L349.6 1496.1 L351.5 1495.7 L353.5 1495.4 L355.4 1495 L357.3 1494.7 L359.3 1494.4 L361.2 1494 L363.1 1493.6 L365.1 1493.3 L367 1492.9 L368.9 1492.6 L370.9 1492.2 L372.8 1491.8 L374.7 1491.4 L376.7 1491.1 L378.6 1490.7 L380.5 1490.3 L382.5 1489.9 L384.4 1489.5 L386.3 1489.1 L388.3 1488.7 L390.2 1488.3 L392.1 1487.9 L394.1 1487.5 L396 1487.1 L397.9 1486.6 L399.9 1486.2 L401.8 1485.8 L403.7 1485.4 L405.7 1484.9 L407.6 1484.5 L409.5 1484.1 L411.5 1483.6 L413.4 1483.2 L415.3 1482.7 L417.3 1482.3 L419.2 1481.8 L421.1 1481.3 L423.1 1480.9 L425 1480.4 L426.9 1479.9 L428.9 1479.5 L430.8 1479 L432.7 1478.5 L434.7 1478 L436.6 1477.5 L438.5 1477 L440.5 1476.5 L442.4 1476 L444.3 1475.5 L446.3 1475 L448.2 1474.5 L450.1 1474 L452.1 1473.5 L454 1473 L455.9 1472.4 L457.9 1471.9 L459.8 1471.4 L461.7 1470.8 L463.7 1470.3 L465.6 1469.8 L467.5 1469.2 L469.5 1468.7 L471.4 1468.1 L473.3 1467.5 L475.3 1467 L477.2 1466.4 L479.1 1465.8 L481.1 1465.3 L483 1464.7 L484.9 1464.1 L486.9 1463.5 L488.8 1462.9 L490.7 1462.4 L492.7 1461.8 L494.6 1461.2 L496.5 1460.6 L498.5 1460 L500.4 1459.3 L502.3 1458.7 L504.3 1458.1 L506.2 1457.5 L508.1 1456.9 L510.1 1456.2 L512 1455.6 L513.9 1455 L515.9 1454.3 L517.8 1453.7 L519.7 1453 L521.7 1452.4 L523.6 1451.7 L525.5 1451.1 L527.5 1450.4 L529.4 1449.8 L531.3 1449.1 L533.3 1448.4 L535.2 1447.7 L537.1 1447.1 L539.1 1446.4 L541 1445.7 L542.9 1445 L544.9 1444.3 L546.8 1443.6 L548.7 1442.9 L550.7 1442.2 L552.6 1441.5 L554.5 1440.8 L556.5 1440.1 L558.4 1439.3 L560.3 1438.6 L562.3 1437.9 L564.2 1437.2 L566.1 1436.4 L568.1 1435.7 L570 1434.9 L571.9 1434.2 L573.9 1433.4 L575.8 1432.7 L577.7 1431.9 L579.7 1431.2 L581.6 1430.4 L583.5 1429.6 L585.5 1428.8 L587.4 1428.1 L589.3 1427.3 L591.3 1426.5 L593.2 1425.7 L595.1 1424.9 L597.1 1424.1 L599 1423.3 L600.9 1422.5 L602.9 1421.7 L604.8 1420.9 L606.7 1420.1 L608.7 1419.3 L610.6 1418.4 L612.5 1417.6 L614.5 1416.8 L616.4 1415.9 L618.3 1415.1 L620.3 1414.3 L622.2 1413.4 L624.1 1412.6 L626.1 1411.7 L628 1410.8 L629.9 1410 L631.9 1409.1 L633.8 1408.2 L635.7 1407.4 L637.7 1406.5 L639.6 1405.6 L641.5 1404.7 L643.5 1403.8 L645.4 1402.9 L647.3 1402 L649.3 1401.1 L651.2 1400.2 L653.1 1399.3 L655.1 1398.4 L657 1397.5 L658.9 1396.6 L660.9 1395.7 L662.8 1394.7 L664.7 1393.8 L666.7 1392.9 L668.6 1391.9 L670.5 1391 L672.5 1390 L674.4 1389.1 L676.3 1388.1 L678.3 1387.2 L680.2 1386.2 L682.1 1385.2 L684.1 1384.2 L686 1383.3 L687.9 1382.3 L689.9 1381.3 L691.8 1380.3 L693.7 1379.3 L695.7 1378.3 L697.6 1377.3 L699.5 1376.3 L701.5 1375.3 L703.4 1374.3 L705.3 1373.3 L707.3 1372.3 L709.2 1371.2 L711.1 1370.2 L713.1 1369.2 L715 1368.2 L716.9 1367.1 L718.9 1366.1 L720.8 1365 L722.7 1364 L724.7 1362.9 L726.6 1361.9 L728.5 1360.8 L730.5 1359.7 L732.4 1358.6 L734.3 1357.6 L736.3 1356.5 L738.2 1355.4 L740.1 1354.3 L742.1 1353.2 L744 1352.1 L745.9 1351 L747.9 1349.9 L749.8 1348.8 L751.7 1347.7 L753.7 1346.6 L755.6 1345.5 L757.5 1344.3 L759.5 1343.2 L761.4 1342.1 L763.3 1340.9 L765.3 1339.8 L767.2 1338.7 L769.1 1337.5 L771.1 1336.4 L773 1335.2 L774.9 1334 L776.9 1332.9 L778.8 1331.7 L780.7 1330.4 L782.7 1329.1 L784.6 1327.8 L786.5 1326.5 L788.5 1325.2 L790.4 1323.9 L792.3 1322.6 L794.3 1321.4 L796.2 1320.1 L798.1 1318.9 L800.1 1317.7 L802 1316.4 L803.9 1315.2 L805.9 1314 L807.8 1312.7 L809.7 1311.5 L811.7 1310.2 L813.6 1309 L815.5 1307.7 L817.5 1306.4 L819.4 1305.2 L821.3 1303.9 L823.3 1302.6 L825.2 1301.4 L827.1 1300.1 L829.1 1298.8 L831 1297.5 L832.9 1296.3 L834.9 1295.2 L836.8 1294.1 L838.7 1293.1 L840.7 1292.1 L842.6 1291.1 L844.5 1290.1 L846.5 1289 L848.4 1287.9 L850.3 1286.8 L852.3 1285.5 L854.2 1284.1 L856.1 1282.6 L858.1 1281.1 L860 1279.6 L861.9 1278 L863.9 1276.4 L865.8 1274.9 L867.7 1273.4 L869.7 1271.9 L871.6 1270.4 L873.5 1268.8 L875.5 1267.3 L877.4 1265.7 L879.3 1264.2 L881.3 1262.7 L883.2 1261.2 L885.1 1259.7 L887.1 1258.2 L889 1256.7 L890.9 1255.3 L892.9 1253.9 L894.8 1252.5 L896.7 1251.1 L898.7 1249.7 L900.6 1248.3 L902.5 1246.9 L904.5 1245.6 L906.4 1244.2 L908.3 1242.8 L910.3 1241.4 L912.2 1240 L914.1 1238.6 L916.1 1237.2 L918 1235.7 L919.9 1234.2 L921.9 1232.7 L923.8 1231.2 L925.7 1229.7 L927.7 1228.2 L929.6 1226.7 L931.5 1225.1 L933.5 1223.6 L935.4 1222 L937.3 1220.5 L939.3 1218.9 L941.2 1217.3 L943.1 1215.7 L945.1 1214.2 L947 1212.6 L948.9 1211 L950.9 1209.3 L952.8 1207.7 L954.7 1206 L956.7 1204.4 L958.6 1202.7 L960.5 1201 L962.5 1199.4 L964.4 1197.7 L966.3 1196 L968.3 1194.3 L970.2 1192.7 L972.1 1191 L974.1 1189.4 L976 1187.8 L977.9 1186.2 L979.9 1184.5 L981.8 1182.9 L983.7 1181.3 L985.7 1179.7 L987.6 1178.1 L989.5 1176.5 L991.5 1174.8 L993.4 1173.2 L995.3 1171.6 L997.3 1170 L999.2 1168.3 L1001.1 1166.7 L1003.1 1165.1 L1005 1163.9 L1006.9 1163 L1008.9 1162.4 L1010.8 1161.7 L1012.7 1160.9 L1014.7 1159.8 L1016.6 1158.4 L1018.5 1157 L1020.5 1155.6 L1022.4 1154.1 L1024.3 1152.5 L1026.3 1151 L1028.2 1149.3 L1030.2 1147.5 L1032.1 1145.8 L1034 1143.9 L1036 1142.1 L1037.9 1140.2 L1039.8 1138.3 L1041.8 1136.4 L1043.7 1134.5 L1045.6 1132.6 L1047.6 1130.7 L1049.5 1128.7 L1051.4 1126.8 L1053.4 1124.9 L1055.3 1122.9 L1057.2 1121 L1059.2 1119 L1061.1 1117 L1063 1115 L1065 1112.9 L1066.9 1110.8 L1068.8 1108.7 L1070.8 1106.6 L1072.7 1104.5 L1074.6 1102.5 L1076.6 1100.5 L1078.5 1098.6 L1080.4 1096.7 L1082.4 1094.9 L1084.3 1093 L1086.2 1091.1 L1088.2 1089.2 L1090.1 1087.3 L1092 1085.4 L1094 1083.5 L1095.9 1081.6 L1097.8 1079.7 L1099.8 1077.7 L1101.7 1075.8 L1103.6 1073.9 L1105.6 1071.9 L1107.5 1070 L1109.4 1068 L1111.4 1066.1 L1113.3 1064.1 L1115.2 1062.1 L1117.2 1060.2 L1119.1 1058.2 L1121 1056.2 L1123 1054.2 L1124.9 1052.2 L1126.8 1050.2 L1128.8 1048.2 L1130.7 1046.2 L1132.6 1044.2 L1134.6 1042.2 L1136.5 1040.2 L1138.4 1038.1 L1140.4 1036.1 L1142.3 1034.1 L1144.2 1032 L1146.2 1030 L1148.1 1027.9 L1150 1025.9 L1152 1023.8 L1153.9 1021.7 L1155.8 1019.7 L1157.8 1017.6 L1159.7 1015.5 L1161.6 1013.4 L1163.6 1011.4 L1165.5 1009.3 L1167.4 1007.2 L1169.4 1005.1 L1171.3 1003 L1173.2 1000.8 L1175.2 998.7 L1177.1 996.6 L1179 994.5 L1181 992.4 L1182.9 990.2 L1184.8 988.1 L1186.8 986 L1188.7 983.8 L1190.6 981.7 L1192.6 979.5 L1194.5 977.4 L1196.4 975.2 L1198.4 973 L1200.3 970.9 L1202.2 968.7 L1204.2 966.5 L1206.1 964.3 L1208 962.2 L1210 960 L1211.9 957.8 L1213.8 955.6 L1215.8 953.4 L1217.7 951.2 L1219.6 949 L1221.6 946.8 L1223.5 944.6 L1225.4 942.3 L1227.4 940.1 L1229.3 937.9 L1231.2 935.7 L1233.2 933.5 L1235.1 931.2 L1237 929 L1239 926.7 L1240.9 924.5 L1242.8 922.3 L1244.8 920 L1246.7 917.8 L1248.6 915.5 L1250.6 913.2 L1252.5 911 L1254.4 908.7 L1256.4 906.5 L1258.3 904.2 L1260.2 901.9 L1262.2 899.6 L1264.1 897.4 L1266 895.1 L1268 892.8 L1269.9 890.5 L1271.8 888.2 L1273.8 885.9 L1275.7 883.6 L1277.6 881.3 L1279.6 879 L1281.5 876.7 L1283.4 874.4 L1285.4 872.1 L1287.3 869.8 L1289.2 867.5 L1291.2 865.2 L1293.1 862.9 L1295 860.6 L1297 858.2 L1298.9 855.9 L1300.8 853.6 L1302.8 851.3 L1304.7 848.9 L1306.6 846.6 L1308.6 844.2 L1310.5 841.9 L1312.4 839.6 L1314.4 837.2 L1316.3 834.9 L1318.2 832.5 L1320.2 830.2 L1322.1 827.8 L1324 825.5 L1326 823.1 L1327.9 820.7 L1329.8 818.4 L1331.8 816 L1333.7 813.6 L1335.6 811.3 L1337.6 808.9 L1339.5 806.5 L1341.4 804.1 L1343.4 801.7 L1345.3 799.4 L1347.2 797 L1349.2 794.6 L1351.1 792.2 L1353 789.8 L1355 787.4 L1356.9 785 L1358.8 782.6 L1360.8 780.2 L1362.7 777.8 L1364.6 775.4 L1366.6 772.9 L1368.5 770.5 L1370.4 768.1 L1372.4 765.7 L1374.3 763.3 L1376.2 760.8 L1378.2 758.4 L1380.1 756 L1382 753.5 L1384 751.1 L1385.9 748.6 L1387.8 746.2 L1389.8 743.7 L1391.7 741.3 L1393.6 738.8 L1395.6 736.4 L1397.5 733.9 L1399.4 731.5 L1401.4 729 L1403.3 726.5 L1405.2 724.1 L1407.2 721.6 L1409.1 719.1 L1411 716.6 L1413 714.2 L1414.9 711.7 L1416.8 709.2 L1418.8 706.7 L1420.7 704.2 L1422.6 701.7 L1424.6 699.2 L1426.5 696.7 L1428.4 694.2 L1430.4 691.7 L1432.3 689.2 L1434.2 686.7 L1436.2 684.2 L1438.1 681.7 L1440 679.1 L1442 676.6 L1443.9 674.1 L1445.8 671.6 L1447.8 669 L1449.7 666.5 L1451.6 664 L1453.6 661.4 L1455.5 658.9 L1457.4 656.3 L1459.4 653.8 L1461.3 651.2 L1463.2 648.7 L1465.2 646.1 L1467.1 643.6 L1469 641 L1471 638.4 L1472.9 635.9 L1474.8 633.3 L1476.8 630.7 L1478.7 628.1 L1480.6 625.6 L1482.6 623 L1484.5 620.4 L1486.4 617.8 L1488.4 615.2 L1490.3 612.6 L1492.2 610 L1494.2 607.4 L1496.1 604.8 L1498 602.2 L1500 599.6 L1501.9 597 L1503.8 594.4 L1505.8 591.7 L1507.7 589.1 L1509.6 586.5 L1511.6 583.9 L1513.5 581.2 L1515.4 578.6 L1517.4 576 L1519.3 573.3 L1521.2 570.7 L1523.2 568 L1525.1 565.4 L1527 562.7 L1529 560.1 L1530.9 557.4 L1532.8 554.8 L1534.8 552.1 L1536.7 549.4 L1538.6 546.7 L1540.6 544.1 L1542.5 541.4 L1544.4 538.7 L1546.4 536 L1548.3 533.3 L1550.2 530.7 L1552.2 528 L1554.1 525.3 L1556 522.6 L1558 519.9 L1559.9 517.2 L1561.8 514.4 L1563.8 511.7 L1565.7 509 L1567.6 506.3 L1569.6 503.6 L1571.5 500.9 L1573.4 498.1 L1575.4 495.4 L1577.3 492.7 L1579.2 489.9 L1581.2 487.2 L1583.1 484.4 L1585 481.7 L1587 478.9 L1588.9 476.2 L1590.8 473.4 L1592.8 470.7 L1594.7 467.9 L1596.6 465.1 L1598.6 462.4 L1600.5 459.6 L1602.4 456.8 L1604.4 454 L1606.3 451.3 L1608.2 448.5 L1610.2 445.7 L1612.1 442.9 L1614 440.1 L1616 437.3 L1617.9 434.5 L1619.8 431.7 L1621.8 428.9 L1623.7 426.1 L1625.6 423.2 L1627.6 420.4 L1629.5 417.6 L1631.4 414.8 L1633.4 411.9 L1635.3 409.1 L1637.2 406.3 L1639.2 403.4 L1641.1 400.6 L1643 397.7 L1645 394.9 L1646.9 392 L1648.8 389.2 L1650.8 386.3 L1652.7 383.5 L1654.6 380.6 L1656.6 377.7 L1658.5 374.9 L1660.4 372 L1662.4 369.1 L1664.3 366.2 L1666.2 363.3 L1668.2 360.4 L1670.1 357.5 L1672 354.6 L1674 351.7 L1675.9 348.8 L1677.8 345.9 L1679.8 343 L1681.7 340.1 L1683.6 337.2 L1685.6 334.3 L1687.5 331.3 L1689.4 328.4 L1691.4 325.5 L1693.3 322.5 L1695.2 319.6 L1697.2 316.7 L1699.1 313.7 L1701 310.8 L1703 307.8 L1704.9 304.9 L1706.8 301.9 L1708.8 298.9 L1710.7 296 L1712.6 293 L1714.6 290 L1716.5 287 L1718.4 284.1 L1720.4 281.1 L1722.3 278.1 L1724.2 275.1 L1726.2 272.1 L1728.1 269.1 L1730 266.1 L1732 263.1 L1733.9 260.1 L1735.8 257.1 L1737.8 254.1 L1739.7 251 L1741.6 248 L1743.6 245 L1745.5 241.9 L1747.4 238.9 L1749.4 235.9 L1751.3 232.8 L1753.2 229.8 L1755.2 226.7 L1757.1 223.7 L1759 220.6 L1761 217.6 L1762.9 214.5 L1764.8 211.4 L1766.8 208.4 L1768.7 205.3 L1770.6 202.2 L1772.6 199.1 L1774.5 196 L1776.4 192.9 L1778.4 189.9 L1780.3 186.8 L1782.2 183.7 L1784.2 180.5 L1786.1 177.4 L1788 174.3 L1790 171.2 L1791.9 168.1 L1793.8 165 L1794 164.7 L1924.2 164.7 L1923.7 168.7 L1923.1 172.7 L1922.6 176.7 L1922.1 180.7 L1921.5 184.7 L1921 188.7 L1920.4 192.7 L1919.9 196.7 L1919.3 200.7 L1918.8 204.7 L1918.2 208.7 L1917.6 212.7 L1917 216.7 L1916.4 220.7 L1915.8 224.7 L1915.2 228.7 L1914.6 232.7 L1914 236.7 L1913.4 240.7 L1912.8 244.7 L1912.2 248.7 L1911.5 252.7 L1910.9 256.7 L1910.3 260.7 L1909.6 264.7 L1909 268.7 L1908.3 272.7 L1907.7 276.7 L1907 280.7 L1906.3 284.7 L1905.6 288.7 L1905 292.7 L1904.3 296.7 L1903.6 300.7 L1902.9 304.7 L1902.2 308.7 L1901.5 312.7 L1900.8 316.7 L1900 320.7 L1899.3 324.7 L1898.6 328.7 L1897.9 332.7 L1897.1 336.7 L1896.4 340.7 L1895.6 344.7 L1894.9 348.7 L1894.1 352.7 L1893.4 356.7 L1892.6 360.7 L1891.8 364.7 L1891 368.7 L1890.3 372.7 L1889.5 376.7 L1888.7 380.7 L1887.9 384.7 L1887.1 388.7 L1886.3 392.7 L1885.5 396.7 L1884.7 400.7 L1883.8 404.7 L1883 408.7 L1882.2 412.7 L1881.4 416.7 L1880.5 420.7 L1879.7 424.7 L1878.8 428.7 L1878 432.7 L1877.1 436.7 L1876.3 440.7 L1875.4 444.7 L1874.6 448.7 L1873.7 452.7 L1872.8 456.7 L1872 460.7 L1871.1 464.7 L1870.2 468.7 L1869.3 472.7 L1868.4 476.7 L1867.6 480.7 L1866.7 484.7 L1865.8 488.7 L1864.9 492.7 L1864 496.7 L1863.1 500.7 L1862.2 504.7 L1861.2 508.7 L1860.3 512.7 L1859.4 516.7 L1858.5 520.7 L1857.6 524.7 L1856.6 528.7 L1855.7 532.7 L1854.8 536.7 L1853.9 540.7 L1852.9 544.7 L1852 548.7 L1851 552.7 L1850.1 556.7 L1849.2 560.7 L1848.2 564.7 L1847.3 568.7 L1846.3 572.7 L1845.4 576.7 L1844.4 580.7 L1843.5 584.7 L1842.5 588.7 L1841.5 592.7 L1840.6 596.7 L1839.6 600.7 L1838.7 604.7 L1837.7 608.7 L1836.7 612.7 L1835.8 616.7 L1834.8 620.7 L1833.8 624.7 L1832.8 628.7 L1831.9 632.7 L1830.9 636.7 L1829.9 640.7 L1828.9 644.7 L1828 648.7 L1827 652.7 L1826 656.7 L1825 660.7 L1824 664.7 L1823 668.7 L1822.1 672.7 L1821.1 676.7 L1820.1 680.7 L1819.1 684.7 L1818.1 688.7 L1817.1 692.7 L1816.1 696.7 L1815.1 700.7 L1814.1 704.7 L1813.1 708.7 L1812.1 712.7 L1811.1 716.7 L1810.1 720.7 L1809.2 724.7 L1808.2 728.7 L1807.2 732.7 L1806.2 736.7 L1805.2 740.7 L1804.1 744.7 L1803.1 748.7 L1802.1 752.7 L1801.1 756.7 L1800.1 760.7 L1799.1 764.7 L1798.1 768.7 L1797.1 772.7 L1796.1 776.7 L1795.1 780.7 L1794.1 784.7 L1793.1 788.7 L1792.1 792.7 L1791 796.7 L1790 800.7 L1789 804.7 L1788 808.7 L1787 812.7 L1785.9 816.7 L1784.9 820.7 L1783.9 824.7 L1782.9 828.7 L1781.9 832.7 L1780.8 836.7 L1779.8 840.7 L1778.8 844.7 L1777.7 848.7 L1776.7 852.7 L1775.7 856.7 L1774.6 860.7 L1773.6 864.7 L1772.5 868.7 L1771.5 872.7 L1770.4 876.7 L1769.4 880.7 L1768.3 884.7 L1767.3 888.7 L1766.2 892.7 L1765.2 896.7 L1764.1 900.7 L1763 904.7 L1762 908.7 L1760.9 912.7 L1759.8 916.7 L1758.7 920.7 L1757.7 924.7 L1756.6 928.7 L1755.5 932.7 L1754.4 936.7 L1753.3 940.7 L1752.2 944.7 L1751.1 948.7 L1749.9 952.7 L1748.8 956.7 L1747.7 960.7 L1746.6 964.7 L1745.4 968.7 L1744.3 972.7 L1743.2 976.7 L1742 980.7 L1740.9 984.7 L1739.7 988.7 L1738.5 992.7 L1737.3 996.7 L1736.2 1000.7 L1735 1004.7 L1733.8 1008.7 L1732.6 1012.7 L1731.4 1016.7 L1730.1 1020.7 L1728.9 1024.7 L1727.7 1028.7 L1726.4 1032.7 L1725.2 1036.7 L1723.9 1040.7 L1722.6 1044.7 L1721.4 1048.7 L1720.1 1052.7 L1718.8 1056.7 L1717.5 1060.7 L1716.1 1064.7 L1714.8 1068.7 L1713.5 1072.7 L1712.1 1076.7 L1710.7 1080.7 L1709.4 1084.7 L1708 1088.7 L1706.6 1092.7 L1705.2 1096.7 L1703.7 1100.7 L1702.3 1104.7 L1700.8 1108.7 L1699.4 1112.7 L1697.9 1116.7 L1696.4 1120.7 L1694.9 1124.7 L1693.3 1128.7 L1691.8 1132.7 L1690.2 1136.7 L1688.6 1140.7 L1687 1144.7 L1685.4 1148.7 L1683.8 1152.7 L1682.1 1156.7 L1680.5 1160.7 L1678.8 1164.7 L1677.1 1168.7 L1675.4 1172.7 L1673.6 1176.7 L1671.8 1180.7 L1670.1 1184.7 L1668.2 1188.7 L1666.4 1192.7 L1664.6 1196.7 L1662.7 1200.7 L1660.8 1204.7 L1658.9 1208.7 L1656.9 1212.7 L1654.9 1216.7 L1652.9 1220.7 L1650.9 1224.7 L1648.9 1228.7 L1646.8 1232.7 L1644.7 1236.7 L1642.6 1240.7 L1640.4 1244.7 L1638.2 1248.7 L1636 1252.7 L1633.8 1256.7 L1631.5 1260.7 L1629.2 1264.7 L1626.9 1268.7 L1624.5 1272.7 L1622.1 1276.7 L1619.7 1280.7 L1617.2 1284.7 L1614.7 1288.7 L1612.2 1292.7 L1609.6 1296.7 L1607 1300.7 L1604.4 1304.7 L1601.7 1308.7 L1599 1312.7 L1596.2 1316.7 L1593.4 1320.7 L1590.6 1324.7 L1587.7 1328.7 L1584.8 1332.7 L1581.8 1336.7 L1578.8 1340.7 L1575.8 1344.7 L1572.7 1348.7 L1569.6 1352.7 L1566.4 1356.7 L1563.2 1360.7 L1559.9 1364.7 L1559.7 1365 L1407.9 1365 L1407.1 1369 L1406.2 1373 L1405.2 1377 L1404.3 1381 L1403.3 1385 L1402.3 1389 L1401.2 1393 L1400.2 1397 L1399.1 1401 L1397.9 1405 L1396.8 1409 L1395.6 1413 L1394.4 1417 L1393.1 1421 L1391.8 1425 L1390.5 1429 L1389.1 1433 L1387.7 1437 L1386.2 1441 L1384.7 1445 L1383.1 1449 L1381.5 1453 L1379.9 1457 L1378.1 1461 L1376.3 1465 L1374.3 1469 L1372.1 1473 L1369.7 1477 L1367.3 1481 L1364.5 1485 L1360.9 1489 L1356 1493 L1345.2 1497 L1344.3 1497.3"/>
</g>
<g shape-rendering="crispEdges" fill="#000">
<rect x="331.0" y="31.0" width="1748.0" height="8"/>
<rect x="331.0" y="1502.0" width="1748.0" height="8"/>
<rect x="331.0" y="31.0" width="8" height="1479.0"/>
<rect x="2071.0" y="31.0" width="8" height="1479.0"/>
<rect x="308" y="1501.6" width="24" height="8"/>
<rect x="308" y="1260.9" width="24" height="8"/>
<rect x="308" y="1020.3" width="24" height="8"/>
<rect x="308" y="779.6" width="24" height="8"/>
<rect x="308" y="538.9" width="24" height="8"/>
<rect x="308" y="298.3" width="24" height="8"/>
<rect x="308" y="57.6" width="24" height="8"/>
<rect x="322" y="1381.3" width="10" height="8"/>
<rect x="322" y="1140.6" width="10" height="8"/>
<rect x="322" y="899.9" width="10" height="8"/>
<rect x="322" y="659.3" width="10" height="8"/>
<rect x="322" y="418.6" width="10" height="8"/>
<rect x="322" y="177.9" width="10" height="8"/>
<rect x="331.0" y="1509" width="8" height="24"/>
<rect x="572.7" y="1509" width="8" height="24"/>
<rect x="814.3" y="1509" width="8" height="24"/>
<rect x="1056.0" y="1509" width="8" height="24"/>
<rect x="1297.7" y="1509" width="8" height="24"/>
<rect x="1539.4" y="1509" width="8" height="24"/>
<rect x="1781.0" y="1509" width="8" height="24"/>
<rect x="2022.7" y="1509" width="8" height="24"/>
<rect x="451.8" y="1509" width="8" height="10"/>
<rect x="693.5" y="1509" width="8" height="10"/>
<rect x="935.2" y="1509" width="8" height="10"/>
<rect x="1176.9" y="1509" width="8" height="10"/>
<rect x="1418.5" y="1509" width="8" height="10"/>
<rect x="1660.2" y="1509" width="8" height="10"/>
<rect x="1901.9" y="1509" width="8" height="10"/>
</g>
<g class="b" font-size="58" font-weight="bold">
<text transform="translate(289.3 1524.0) scale(1 1.04)" text-anchor="end">0.0</text>
<text transform="translate(289.3 1283.3) scale(1 1.04)" text-anchor="end">1.8</text>
<text transform="translate(289.3 1042.7) scale(1 1.04)" text-anchor="end">3.6</text>
<text transform="translate(289.3 802.0) scale(1 1.04)" text-anchor="end">5.4</text>
<text transform="translate(289.3 561.3) scale(1 1.04)" text-anchor="end">7.2</text>
<text transform="translate(289.3 320.7) scale(1 1.04)" text-anchor="end">9.0</text>
<text transform="translate(289.3 80.0) scale(1 1.04)" text-anchor="end">10.8</text>
<text transform="translate(335.3 1597.0) scale(1 1.04)" text-anchor="middle">0</text>
<text transform="translate(577.0 1597.0) scale(1 1.04)" text-anchor="middle">250</text>
<text transform="translate(818.6 1597.0) scale(1 1.04)" text-anchor="middle">500</text>
<text transform="translate(1060.3 1597.0) scale(1 1.04)" text-anchor="middle">750</text>
<text transform="translate(1302.0 1597.0) scale(1 1.04)" text-anchor="middle">1000</text>
<text transform="translate(1543.7 1597.0) scale(1 1.04)" text-anchor="middle">1250</text>
<text transform="translate(1785.3 1597.0) scale(1 1.04)" text-anchor="middle">1500</text>
<text transform="translate(2027.0 1597.0) scale(1 1.04)" text-anchor="middle">1750</text>
</g>
<g font-size="72.2">
<text transform="translate(105.3 779.5) scale(1 1.025)" text-anchor="middle">Load</text>
<text transform="translate(105.3 868.6) scale(1 1.025)" text-anchor="middle">(mN)</text>
<text transform="translate(1189.6 1675.6) scale(1 1.025)" text-anchor="middle">Depth (nm)</text>
</g>
<rect x="388.5" y="48.5" width="1624" height="99.5" fill="#fff" stroke="#000" stroke-width="2.5" shape-rendering="crispEdges"/>
<g stroke-width="8" stroke-linecap="round" fill="none" shape-rendering="crispEdges">
<path stroke="#000000" d="M398.7 98.2H559.7"/>
<path stroke="#ff0000" d="M722.3 98.2H883.3"/>
<path stroke="#0000ff" d="M1045.9 98.2H1206.9"/>
<path stroke="#008000" d="M1369.5 98.2H1530.5"/>
<path stroke="#8000ff" d="M1693.1 98.2H1854.1"/>
</g>
<g font-size="72.2">
<text transform="translate(579.8 123.0) scale(1 1.04)">E51</text>
<text transform="translate(903.4 123.0) scale(1 1.04)">E52</text>
<text transform="translate(1227.0 123.0) scale(1 1.04)">E53</text>
<text transform="translate(1550.6 123.0) scale(1 1.04)">E54</text>
<text transform="translate(1874.2 123.0) scale(1 1.04)">E55</text>
</g>
<rect x="485.3" y="242.5" width="744.8" height="407.29999999999995" fill="#fff"/>
<clipPath id="ic"><rect x="485.3" y="242.5" width="744.8" height="407.29999999999995"/></clipPath>
<g fill="none" stroke-linejoin="round" clip-path="url(#ic)" shape-rendering="crispEdges">
<path stroke="#000000" stroke-width="8.5" transform="translate(0 -1)" d="M471.1 588.3 L473.1 587.3 L475.2 586.3 L477.2 585.3 L479.2 584.3 L481.3 583.3 L483.3 582.3 L485.3 581.4 L487.4 580.4 L489.4 579.5 L491.5 578.5 L493.5 577.6 L495.5 576.7 L497.6 575.7 L499.6 574.8 L501.6 573.8 L503.7 572.9 L505.7 571.9 L507.8 571 L509.8 570 L511.8 569.1 L513.9 568.1 L515.9 567.2 L518 566.3 L520 565.3 L522 564.3 L524.1 563.4 L526.1 562.4 L528.1 561.5 L530.2 560.5 L532.2 559.6 L534.3 558.6 L536.3 557.7 L538.3 556.7 L540.4 555.8 L542.4 554.8 L544.4 553.9 L546.5 552.9 L548.5 551.9 L550.6 551 L552.6 550 L554.6 549.1 L556.7 548.1 L558.7 547.1 L560.8 546.2 L562.8 545.2 L564.8 544.3 L566.9 543.3 L568.9 542.4 L570.9 541.5 L573 540.5 L575 539.6 L577.1 538.7 L579.1 537.8 L581.1 536.9 L583.2 536 L585.2 535.1 L587.2 534.2 L589.3 533.4 L591.3 532.5 L593.4 531.6 L595.4 530.7 L597.4 529.8 L599.5 528.9 L601.5 528.1 L603.6 527.2 L605.6 526.3 L607.6 525.4 L609.7 524.5 L611.7 523.6 L613.7 522.7 L615.8 521.8 L617.8 520.9 L619.9 520 L621.9 519 L623.9 518.1 L626 517.2 L628 516.2 L630 515.3 L632.1 514.3 L634.1 513.3 L636.2 512.3 L638.2 511.3 L640.2 510.3 L642.3 509.3 L644.3 508.3 L646.4 507.3 L648.4 506.3 L650.4 505.3 L652.5 504.3 L654.5 503.2 L656.5 502.2 L658.6 501.2 L660.6 500.2 L662.7 499.1 L664.7 498.1 L666.7 497.1 L668.8 496 L670.8 495 L672.8 494 L674.9 492.9 L676.9 491.9 L679 490.9 L681 489.8 L683 488.8 L685.1 487.8 L687.1 486.7 L689.2 485.7 L691.2 484.7 L693.2 483.6 L695.3 482.6 L697.3 481.6 L699.3 480.6 L701.4 479.6 L703.4 478.6 L705.5 477.6 L707.5 476.6 L709.5 475.6 L711.6 474.6 L713.6 473.7 L715.6 472.8 L717.7 471.9 L719.7 471.1 L721.8 470.3 L723.8 469.5 L725.8 468.7 L727.9 467.9 L729.9 467.2 L732 466.5 L734 465.7 L736 465 L738.1 464.3 L740.1 463.5 L742.1 462.8 L744.2 462 L746.2 461.2 L748.3 460.4 L750.3 459.6 L752.3 458.7 L754.4 457.8 L756.4 456.9 L758.5 456 L760.5 455 L762.5 454 L764.6 452.9 L766.6 451.8 L768.6 450.7 L770.7 449.6 L772.7 448.4 L774.8 447.3 L776.8 446.1 L778.8 444.9 L780.9 443.8 L782.9 442.6 L784.9 441.4 L787 440.2 L789 439 L791.1 437.8 L793.1 436.7 L795.1 435.5 L797.2 434.4 L799.2 433.3 L801.3 432.2 L803.3 431.1 L805.3 430.1 L807.4 429.1 L809.4 428.1 L811.4 427.2 L813.5 426.4 L815.5 425.6 L817.6 424.8 L819.6 424 L821.6 423.3 L823.7 422.5 L825.7 421.8 L827.7 421.1 L829.8 420.3 L831.8 419.6 L833.9 418.8 L835.9 418.1 L837.9 417.2 L840 416.4 L842 415.5 L844.1 414.5 L846.1 413.5 L848.1 412.5 L850.2 411.5 L852.2 410.4 L854.2 409.4 L856.3 408.3 L858.3 407.2 L860.4 406.1 L862.4 405.1 L864.4 404 L866.5 402.8 L868.5 401.7 L870.5 400.6 L872.6 399.5 L874.6 398.3 L876.7 397.2 L878.7 396.1 L880.7 394.9 L882.8 393.8 L884.8 392.6 L886.9 391.4 L888.9 390.1 L890.9 388.8 L893 387.6 L895 386.3 L897 385 L899.1 383.7 L901.1 382.5 L903.2 381.2 L905.2 380 L907.2 378.8 L909.3 377.7 L911.3 376.6 L913.3 375.5 L915.4 374.4 L917.4 373.3 L919.5 372.2 L921.5 371.1 L923.5 370 L925.6 368.9 L927.6 367.8 L929.7 366.6 L931.7 365.5 L933.7 364.4 L935.8 363.3 L937.8 362.2 L939.8 361 L941.9 359.9 L943.9 358.8 L946 357.6 L948 356.5 L950 355.4 L952.1 354.2 L954.1 353.1 L956.1 351.9 L958.2 350.8 L960.2 349.6 L962.3 348.5 L964.3 347.3 L966.3 346.1 L968.4 345 L970.4 343.8 L972.5 342.6 L974.5 341.5 L976.5 340.3 L978.6 339.1 L980.6 337.9 L982.6 336.7 L984.7 335.5 L986.7 334.3 L988.8 333.1 L990.8 331.9 L992.8 330.7 L994.9 329.5 L996.9 328.3 L998.9 327 L1001 325.8 L1003 324.6 L1005.1 323.4 L1007.1 322.1 L1009.1 320.9 L1011.2 319.7 L1013.2 318.4 L1015.3 317.2 L1017.3 315.9 L1019.3 314.7 L1021.4 313.5 L1023.4 312.2 L1025.4 311 L1027.5 309.7 L1029.5 308.5 L1031.6 307.2 L1033.6 306 L1035.6 304.8 L1037.7 303.5 L1039.7 302.3 L1041.8 301.1 L1043.8 299.8 L1045.8 298.6 L1047.9 297.4 L1049.9 296.1 L1051.9 294.9 L1054 293.7 L1056 292.4 L1058.1 291.2 L1060.1 290 L1062.1 288.8 L1064.2 287.5 L1066.2 286.3 L1068.2 285.1 L1070.3 283.9 L1072.3 282.7 L1074.4 281.4 L1076.4 280.2 L1078.4 279 L1080.5 277.8 L1082.5 276.6 L1084.6 275.4 L1086.6 274.1 L1088.6 272.9 L1090.7 271.7 L1092.7 270.5 L1094.7 269.3 L1096.8 268 L1098.8 266.8 L1100.9 265.6 L1102.9 264.4 L1104.9 263.2 L1107 261.9 L1109 260.7 L1111 259.5 L1113.1 258.3 L1115.1 257 L1117.2 255.8 L1119.2 254.6 L1121.2 253.4 L1123.3 252.1 L1125.3 250.9 L1127.4 249.7 L1129.4 248.4 L1131.4 247.2 L1133.5 246 L1135.5 244.8 L1137.5 243.5 L1139.6 242.3 L1141.6 241.1 L1143.7 239.9 L1145.7 238.6 L1147.7 237.4 L1149.8 236.2 L1151.8 235 L1153.8 233.7 L1155.9 232.5 L1157.9 231.3 L1160 230.1 L1162 228.9 L1164 227.6 L1166.1 226.4 L1168.1 225.2 L1170.2 224 L1172.2 222.7 L1174.2 221.5 L1176.3 220.3 L1178.3 219 L1180.3 217.8 L1182.4 216.6 L1184.4 215.3 L1186.5 214.1 L1188.5 212.8 L1190.5 211.6 L1192.6 210.4 L1194.6 209.1 L1196.6 207.9 L1198.7 206.7 L1200.7 205.4 L1202.8 204.2 L1204.8 202.9 L1206.8 201.7 L1208.9 200.5 L1210.9 199.2 L1213 198 L1215 196.7 L1217 195.5 L1219.1 194.3 L1221.1 193 L1223.1 191.8 L1225.2 190.5 L1227.2 189.3 L1229.3 188.1 L1231.3 186.8 L1233.3 185.6 L1235.4 184.3 L1237.4 183.1 L1239.4 181.9 L1241.5 180.6 L1243.5 179.4 L1245.6 178.2 L1247.6 176.9"/>
<path stroke="#ff0000" stroke-width="4.8" d="M471.1 600.1 L473.1 599.3 L475.2 598.6 L477.2 597.7 L479.2 596.9 L481.3 596.1 L483.3 595.2 L485.3 594.3 L487.4 593.4 L489.4 592.5 L491.5 591.5 L493.5 590.5 L495.5 589.5 L497.6 588.4 L499.6 587.3 L501.6 586.2 L503.7 585 L505.7 583.9 L507.8 582.7 L509.8 581.5 L511.8 580.2 L513.9 579 L515.9 577.8 L518 576.5 L520 575.2 L522 574 L524.1 572.7 L526.1 571.4 L528.1 570.1 L530.2 568.8 L532.2 567.5 L534.3 566.3 L536.3 565 L538.3 563.8 L540.4 562.5 L542.4 561.3 L544.4 560.1 L546.5 558.9 L548.5 557.7 L550.6 556.5 L552.6 555.4 L554.6 554.3 L556.7 553.2 L558.7 552.1 L560.8 551.1 L562.8 550.1 L564.8 549.1 L566.9 548.2 L568.9 547.2 L570.9 546.2 L573 545.3 L575 544.3 L577.1 543.4 L579.1 542.4 L581.1 541.5 L583.2 540.5 L585.2 539.6 L587.2 538.6 L589.3 537.7 L591.3 536.8 L593.4 535.8 L595.4 534.9 L597.4 534 L599.5 533 L601.5 532.1 L603.6 531.2 L605.6 530.2 L607.6 529.3 L609.7 528.4 L611.7 527.4 L613.7 526.5 L615.8 525.6 L617.8 524.6 L619.9 523.7 L621.9 522.7 L623.9 521.8 L626 520.8 L628 519.9 L630 518.9 L632.1 518 L634.1 517 L636.2 516 L638.2 515 L640.2 514.1 L642.3 513.1 L644.3 512.1 L646.4 511.1 L648.4 510.1 L650.4 509.1 L652.5 508.1 L654.5 507.1 L656.5 506.2 L658.6 505.2 L660.6 504.2 L662.7 503.2 L664.7 502.2 L666.7 501.2 L668.8 500.2 L670.8 499.2 L672.8 498.2 L674.9 497.2 L676.9 496.2 L679 495.2 L681 494.2 L683 493.2 L685.1 492.2 L687.1 491.2 L689.2 490.2 L691.2 489.2 L693.2 488.3 L695.3 487.3 L697.3 486.3 L699.3 485.3 L701.4 484.3 L703.4 483.4 L705.5 482.4 L707.5 481.4 L709.5 480.5 L711.6 479.5 L713.6 478.6 L715.6 477.7 L717.7 476.8 L719.7 476 L721.8 475.1 L723.8 474.3 L725.8 473.5 L727.9 472.6 L729.9 471.8 L732 471 L734 470.2 L736 469.4 L738.1 468.6 L740.1 467.7 L742.1 466.9 L744.2 466.1 L746.2 465.2 L748.3 464.3 L750.3 463.5 L752.3 462.5 L754.4 461.6 L756.4 460.7 L758.5 459.7 L760.5 458.7 L762.5 457.6 L764.6 456.6 L766.6 455.5 L768.6 454.5 L770.7 453.4 L772.7 452.3 L774.8 451.2 L776.8 450.1 L778.8 449 L780.9 447.9 L782.9 446.8 L784.9 445.7 L787 444.6 L789 443.5 L791.1 442.4 L793.1 441.3 L795.1 440.2 L797.2 439.2 L799.2 438.1 L801.3 437.1 L803.3 436 L805.3 435 L807.4 434 L809.4 433 L811.4 432 L813.5 431.1 L815.5 430.1 L817.6 429.1 L819.6 428.1 L821.6 427.2 L823.7 426.2 L825.7 425.2 L827.7 424.2 L829.8 423.3 L831.8 422.3 L833.9 421.3 L835.9 420.4 L837.9 419.4 L840 418.4 L842 417.5 L844.1 416.5 L846.1 415.5 L848.1 414.6 L850.2 413.6 L852.2 412.6 L854.2 411.6 L856.3 410.6 L858.3 409.7 L860.4 408.7 L862.4 407.7 L864.4 406.7 L866.5 405.7 L868.5 404.7 L870.5 403.7 L872.6 402.7 L874.6 401.7 L876.7 400.6 L878.7 399.6 L880.7 398.6 L882.8 397.6 L884.8 396.5 L886.9 395.5 L888.9 394.4 L890.9 393.4 L893 392.3 L895 391.3 L897 390.2 L899.1 389.1 L901.1 388.1 L903.2 387 L905.2 385.9 L907.2 384.9 L909.3 383.8 L911.3 382.7 L913.3 381.6 L915.4 380.5 L917.4 379.4 L919.5 378.2 L921.5 377.1 L923.5 376 L925.6 374.8 L927.6 373.6 L929.7 372.5 L931.7 371.3 L933.7 370.1 L935.8 368.9 L937.8 367.7 L939.8 366.5 L941.9 365.3 L943.9 364.1 L946 362.9 L948 361.7 L950 360.5 L952.1 359.3 L954.1 358.1 L956.1 356.9 L958.2 355.7 L960.2 354.5 L962.3 353.4 L964.3 352.2 L966.3 351 L968.4 349.8 L970.4 348.7 L972.5 347.5 L974.5 346.4 L976.5 345.3 L978.6 344.2 L980.6 343 L982.6 341.9 L984.7 340.8 L986.7 339.7 L988.8 338.6 L990.8 337.5 L992.8 336.5 L994.9 335.4 L996.9 334.3 L998.9 333.2 L1001 332.1 L1003 331.1 L1005.1 330 L1007.1 328.9 L1009.1 327.9 L1011.2 326.8 L1013.2 325.7 L1015.3 324.6 L1017.3 323.6 L1019.3 322.5 L1021.4 321.4 L1023.4 320.3 L1025.4 319.2 L1027.5 318.1 L1029.5 317 L1031.6 315.9 L1033.6 314.8 L1035.6 313.7 L1037.7 312.6 L1039.7 311.4 L1041.8 310.3 L1043.8 309.1 L1045.8 308 L1047.9 306.8 L1049.9 305.7 L1051.9 304.5 L1054 303.3 L1056 302.1 L1058.1 301 L1060.1 299.8 L1062.1 298.6 L1064.2 297.4 L1066.2 296.3 L1068.2 295.1 L1070.3 293.9 L1072.3 292.7 L1074.4 291.5 L1076.4 290.3 L1078.4 289.2 L1080.5 288 L1082.5 286.8 L1084.6 285.6 L1086.6 284.4 L1088.6 283.2 L1090.7 282.1 L1092.7 280.9 L1094.7 279.7 L1096.8 278.5 L1098.8 277.3 L1100.9 276.2 L1102.9 275 L1104.9 273.8 L1107 272.6 L1109 271.5 L1111 270.3 L1113.1 269.1 L1115.1 268 L1117.2 266.8 L1119.2 265.7 L1121.2 264.5 L1123.3 263.4 L1125.3 262.2 L1127.4 261.1 L1129.4 260 L1131.4 258.8 L1133.5 257.7 L1135.5 256.5 L1137.5 255.4 L1139.6 254.3 L1141.6 253.1 L1143.7 252 L1145.7 250.8 L1147.7 249.7 L1149.8 248.5 L1151.8 247.4 L1153.8 246.2 L1155.9 245 L1157.9 243.8 L1160 242.6 L1162 241.1 L1164 239 L1166.1 236.5 L1168.1 233.9 L1170.2 231.3 L1172.2 229 L1174.2 227.2 L1176.3 226 L1178.3 225.1 L1180.3 224.3 L1182.4 223.5 L1184.4 222.9 L1186.5 222.4 L1188.5 222 L1190.5 221.6 L1192.6 221.3 L1194.6 221 L1196.6 220.8 L1198.7 220.5 L1200.7 220.3 L1202.8 220.1 L1204.8 219.9 L1206.8 219.7 L1208.9 219.5 L1210.9 219.2 L1213 218.8 L1215 218.4 L1217 217.9 L1219.1 217.4 L1221.1 216.7 L1223.1 216 L1225.2 215.1 L1227.2 214.1 L1229.3 213.1 L1231.3 212 L1233.3 210.8 L1235.4 209.7 L1237.4 208.5 L1239.4 207.3 L1241.5 206.1 L1243.5 204.9 L1245.6 203.6 L1247.6 202.4"/>
<path stroke="#0000ff" stroke-width="4.5" d="M471.1 687.6 L473.1 686.9 L475.2 686.3 L477.2 685.7 L479.2 685.1 L481.3 684.4 L483.3 683.8 L485.3 683.2 L487.4 682.5 L489.4 681.9 L491.5 681.3 L493.5 680.6 L495.5 680 L497.6 679.3 L499.6 678.7 L501.6 678.1 L503.7 677.4 L505.7 676.8 L507.8 676.2 L509.8 675.5 L511.8 674.9 L513.9 674.2 L515.9 673.6 L518 672.9 L520 672.3 L522 671.6 L524.1 671 L526.1 670.4 L528.1 669.7 L530.2 669.1 L532.2 668.4 L534.3 667.8 L536.3 667.1 L538.3 666.5 L540.4 665.8 L542.4 665.1 L544.4 664.5 L546.5 663.8 L548.5 663.2 L550.6 662.5 L552.6 661.9 L554.6 661.2 L556.7 660.5 L558.7 659.9 L560.8 659.2 L562.8 658.5 L564.8 657.8 L566.9 657 L568.9 656.3 L570.9 655.6 L573 654.9 L575 654.1 L577.1 653.4 L579.1 652.6 L581.1 651.9 L583.2 651.1 L585.2 650.4 L587.2 649.6 L589.3 648.9 L591.3 648.1 L593.4 647.4 L595.4 646.6 L597.4 645.9 L599.5 645.2 L601.5 644.5 L603.6 643.7 L605.6 643 L607.6 642.4 L609.7 641.7 L611.7 641 L613.7 640.3 L615.8 639.6 L617.8 639 L619.9 638.3 L621.9 637.6 L623.9 636.9 L626 636.3 L628 635.6 L630 634.9 L632.1 634.3 L634.1 633.6 L636.2 632.9 L638.2 632.2 L640.2 631.6 L642.3 630.9 L644.3 630.2 L646.4 629.6 L648.4 628.9 L650.4 628.2 L652.5 627.6 L654.5 626.9 L656.5 626.2 L658.6 625.6 L660.6 624.9 L662.7 624.2 L664.7 623.6 L666.7 622.9 L668.8 622.2 L670.8 621.5 L672.8 620.9 L674.9 620.2 L676.9 619.5 L679 618.9 L681 618.2 L683 617.5 L685.1 616.8 L687.1 616.2 L689.2 615.5 L691.2 614.9 L693.2 614.2 L695.3 613.6 L697.3 612.9 L699.3 612.3 L701.4 611.7 L703.4 611.1 L705.5 610.4 L707.5 609.8 L709.5 609.2 L711.6 608.6 L713.6 608 L715.6 607.4 L717.7 606.8 L719.7 606.1 L721.8 605.5 L723.8 604.9 L725.8 604.3 L727.9 603.7 L729.9 603.1 L732 602.4 L734 601.8 L736 601.2 L738.1 600.5 L740.1 599.9 L742.1 599.2 L744.2 598.5 L746.2 597.9 L748.3 597.2 L750.3 596.5 L752.3 595.8 L754.4 595.1 L756.4 594.4 L758.5 593.7 L760.5 592.9 L762.5 592.2 L764.6 591.4 L766.6 590.6 L768.6 589.8 L770.7 589.1 L772.7 588.3 L774.8 587.5 L776.8 586.6 L778.8 585.8 L780.9 585 L782.9 584.2 L784.9 583.3 L787 582.5 L789 581.7 L791.1 580.8 L793.1 580 L795.1 579.1 L797.2 578.3 L799.2 577.4 L801.3 576.6 L803.3 575.7 L805.3 574.9 L807.4 574.1 L809.4 573.2 L811.4 572.4 L813.5 571.5 L815.5 570.7 L817.6 569.9 L819.6 569.1 L821.6 568.3 L823.7 567.5 L825.7 566.7 L827.7 565.9 L829.8 565.1 L831.8 564.3 L833.9 563.6 L835.9 562.8 L837.9 562 L840 561.3 L842 560.5 L844.1 559.8 L846.1 559.1 L848.1 558.3 L850.2 557.6 L852.2 556.9 L854.2 556.1 L856.3 555.4 L858.3 554.7 L860.4 553.9 L862.4 553.2 L864.4 552.5 L866.5 551.8 L868.5 551 L870.5 550.3 L872.6 549.6 L874.6 548.9 L876.7 548.1 L878.7 547.4 L880.7 546.7 L882.8 545.9 L884.8 545.2 L886.9 544.5 L888.9 543.7 L890.9 543 L893 542.2 L895 541.5 L897 540.7 L899.1 540 L901.1 539.2 L903.2 538.4 L905.2 537.7 L907.2 536.9 L909.3 536.1 L911.3 535.3 L913.3 534.5 L915.4 533.7 L917.4 532.8 L919.5 532 L921.5 531.1 L923.5 530.3 L925.6 529.4 L927.6 528.5 L929.7 527.6 L931.7 526.7 L933.7 525.8 L935.8 524.9 L937.8 524 L939.8 523.1 L941.9 522.2 L943.9 521.2 L946 520.3 L948 519.4 L950 518.4 L952.1 517.5 L954.1 516.6 L956.1 515.6 L958.2 514.7 L960.2 513.7 L962.3 512.8 L964.3 511.9 L966.3 510.9 L968.4 510 L970.4 509.1 L972.5 508.1 L974.5 507.2 L976.5 506.3 L978.6 505.4 L980.6 504.5 L982.6 503.6 L984.7 502.7 L986.7 501.8 L988.8 501 L990.8 500.1 L992.8 499.2 L994.9 498.4 L996.9 497.6 L998.9 496.7 L1001 495.9 L1003 495.1 L1005.1 494.3 L1007.1 493.5 L1009.1 492.6 L1011.2 491.8 L1013.2 491 L1015.3 490.2 L1017.3 489.4 L1019.3 488.5 L1021.4 487.7 L1023.4 486.9 L1025.4 486.1 L1027.5 485.3 L1029.5 484.5 L1031.6 483.7 L1033.6 482.9 L1035.6 482 L1037.7 481.2 L1039.7 480.4 L1041.8 479.6 L1043.8 478.8 L1045.8 478 L1047.9 477.2 L1049.9 476.4 L1051.9 475.6 L1054 474.8 L1056 473.9 L1058.1 473.1 L1060.1 472.3 L1062.1 471.5 L1064.2 470.7 L1066.2 469.9 L1068.2 469.1 L1070.3 468.3 L1072.3 467.5 L1074.4 466.6 L1076.4 465.8 L1078.4 465 L1080.5 464.2 L1082.5 463.4 L1084.6 462.6 L1086.6 461.7 L1088.6 460.9 L1090.7 460.1 L1092.7 459.3 L1094.7 458.5 L1096.8 457.6 L1098.8 456.8 L1100.9 456 L1102.9 455.2 L1104.9 454.4 L1107 453.6 L1109 452.7 L1111 451.9 L1113.1 451.1 L1115.1 450.3 L1117.2 449.5 L1119.2 448.7 L1121.2 447.9 L1123.3 447.1 L1125.3 446.3 L1127.4 445.5 L1129.4 444.7 L1131.4 443.8 L1133.5 443 L1135.5 442.2 L1137.5 441.4 L1139.6 440.6 L1141.6 439.8 L1143.7 439 L1145.7 438.2 L1147.7 437.4 L1149.8 436.5 L1151.8 435.7 L1153.8 434.9 L1155.9 434.1 L1157.9 433.3 L1160 432.4 L1162 431.6 L1164 430.8 L1166.1 429.9 L1168.1 429.1 L1170.2 428.3 L1172.2 427.4 L1174.2 426.6 L1176.3 425.8 L1178.3 424.9 L1180.3 424.1 L1182.4 423.3 L1184.4 422.4 L1186.5 421.6 L1188.5 420.8 L1190.5 419.9 L1192.6 419.1 L1194.6 418.3 L1196.6 417.4 L1198.7 416.6 L1200.7 415.7 L1202.8 414.9 L1204.8 414 L1206.8 413.2 L1208.9 412.3 L1210.9 411.5 L1213 410.6 L1215 409.7 L1217 408.8 L1219.1 408 L1221.1 407.1 L1223.1 406.2 L1225.2 405.3 L1227.2 404.4 L1229.3 403.5 L1231.3 402.6 L1233.3 401.6 L1235.4 400.7 L1237.4 399.7 L1239.4 398.7 L1241.5 397.6 L1243.5 396.6 L1245.6 395.6 L1247.6 394.5"/>
<path stroke="#008000" stroke-width="4.8" d="M471.1 598.2 L473.1 597.4 L475.2 596.5 L477.2 595.7 L479.2 594.9 L481.3 594 L483.3 593.2 L485.3 592.3 L487.4 591.5 L489.4 590.6 L491.5 589.8 L493.5 588.9 L495.5 587.9 L497.6 587 L499.6 586 L501.6 585.1 L503.7 584.1 L505.7 583.1 L507.8 582.1 L509.8 581.1 L511.8 580.2 L513.9 579.2 L515.9 578.2 L518 577.2 L520 576.3 L522 575.3 L524.1 574.4 L526.1 573.5 L528.1 572.6 L530.2 571.7 L532.2 570.8 L534.3 569.9 L536.3 569 L538.3 568.1 L540.4 567.2 L542.4 566.3 L544.4 565.4 L546.5 564.5 L548.5 563.6 L550.6 562.7 L552.6 561.8 L554.6 561 L556.7 560.1 L558.7 559.3 L560.8 558.4 L562.8 557.6 L564.8 556.9 L566.9 556.4 L568.9 556.1 L570.9 555.8 L573 555.6 L575 555.4 L577.1 555.2 L579.1 554.9 L581.1 554.6 L583.2 554.1 L585.2 553.5 L587.2 552.7 L589.3 551.9 L591.3 551 L593.4 550.1 L595.4 549.2 L597.4 548.2 L599.5 547.3 L601.5 546.3 L603.6 545.4 L605.6 544.4 L607.6 543.5 L609.7 542.6 L611.7 541.7 L613.7 540.8 L615.8 539.9 L617.8 539 L619.9 538.1 L621.9 537.2 L623.9 536.3 L626 535.5 L628 534.6 L630 533.7 L632.1 532.9 L634.1 532 L636.2 531.1 L638.2 530.2 L640.2 529.4 L642.3 528.5 L644.3 527.6 L646.4 526.7 L648.4 525.8 L650.4 524.9 L652.5 524 L654.5 523 L656.5 522 L658.6 521 L660.6 520 L662.7 518.9 L664.7 517.9 L666.7 516.9 L668.8 515.9 L670.8 514.9 L672.8 513.9 L674.9 512.9 L676.9 512 L679 511.1 L681 510.3 L683 509.5 L685.1 508.7 L687.1 508.1 L689.2 507.6 L691.2 507.2 L693.2 506.8 L695.3 506.6 L697.3 506.4 L699.3 506.2 L701.4 506 L703.4 505.8 L705.5 505.6 L707.5 505.4 L709.5 505.1 L711.6 504.8 L713.6 504.5 L715.6 504.2 L717.7 503.9 L719.7 503.7 L721.8 503.4 L723.8 503.1 L725.8 502.8 L727.9 502.5 L729.9 502.1 L732 501.7 L734 501.2 L736 500.7 L738.1 500.1 L740.1 499.4 L742.1 498.6 L744.2 497.8 L746.2 496.8 L748.3 495.9 L750.3 494.8 L752.3 493.8 L754.4 492.7 L756.4 491.5 L758.5 490.4 L760.5 489.1 L762.5 487.7 L764.6 486.2 L766.6 484.5 L768.6 482.8 L770.7 481.1 L772.7 479.3 L774.8 477.6 L776.8 476 L778.8 474.5 L780.9 473.2 L782.9 472 L784.9 471.1 L787 470.1 L789 469.3 L791.1 468.5 L793.1 467.7 L795.1 466.9 L797.2 466.2 L799.2 465.4 L801.3 464.7 L803.3 463.9 L805.3 463.1 L807.4 462.3 L809.4 461.4 L811.4 460.6 L813.5 459.9 L815.5 459.1 L817.6 458.3 L819.6 457.5 L821.6 456.6 L823.7 455.6 L825.7 454.5 L827.7 453.4 L829.8 452.1 L831.8 450.8 L833.9 449.5 L835.9 448.2 L837.9 446.9 L840 445.6 L842 444.2 L844.1 442.8 L846.1 441.5 L848.1 440.1 L850.2 438.6 L852.2 437.2 L854.2 435.8 L856.3 434.3 L858.3 432.8 L860.4 431.3 L862.4 429.7 L864.4 428.1 L866.5 426.5 L868.5 424.8 L870.5 423.1 L872.6 421.5 L874.6 419.8 L876.7 418.1 L878.7 416.4 L880.7 414.8 L882.8 413.2 L884.8 411.6 L886.9 409.9 L888.9 408.3 L890.9 406.7 L893 405.1 L895 403.4 L897 401.8 L899.1 400.2 L901.1 398.7 L903.2 397.1 L905.2 395.5 L907.2 394 L909.3 392.5 L911.3 391.1 L913.3 389.9 L915.4 388.9 L917.4 387.9 L919.5 386.8 L921.5 385.6 L923.5 384.2 L925.6 382.8 L927.6 381.3 L929.7 379.8 L931.7 378.3 L933.7 376.8 L935.8 375.3 L937.8 373.8 L939.8 372.3 L941.9 370.7 L943.9 369.2 L946 367.7 L948 366.1 L950 364.6 L952.1 363.1 L954.1 361.6 L956.1 360.1 L958.2 358.6 L960.2 357.2 L962.3 355.7 L964.3 354.3 L966.3 352.8 L968.4 351.4 L970.4 350.1 L972.5 348.7 L974.5 347.4 L976.5 346 L978.6 344.7 L980.6 343.4 L982.6 342.1 L984.7 340.8 L986.7 339.5 L988.8 338.2 L990.8 336.9 L992.8 335.6 L994.9 334.4 L996.9 333.1 L998.9 331.8 L1001 330.6 L1003 329.3 L1005.1 328.1 L1007.1 326.8 L1009.1 325.6 L1011.2 324.4 L1013.2 323.1 L1015.3 321.9 L1017.3 320.7 L1019.3 319.4 L1021.4 318.2 L1023.4 317 L1025.4 315.8 L1027.5 314.6 L1029.5 313.3 L1031.6 312.1 L1033.6 310.9 L1035.6 309.7 L1037.7 308.5 L1039.7 307.2 L1041.8 306 L1043.8 304.8 L1045.8 303.6 L1047.9 302.4 L1049.9 301.1 L1051.9 299.9 L1054 298.7 L1056 297.5 L1058.1 296.2 L1060.1 295 L1062.1 293.8 L1064.2 292.6 L1066.2 291.4 L1068.2 290.2 L1070.3 288.9 L1072.3 287.7 L1074.4 286.5 L1076.4 285.3 L1078.4 284.1 L1080.5 282.9 L1082.5 281.7 L1084.6 280.5 L1086.6 279.2 L1088.6 278 L1090.7 276.8 L1092.7 275.6 L1094.7 274.4 L1096.8 273.2 L1098.8 272 L1100.9 270.8 L1102.9 269.7 L1104.9 268.5 L1107 267.3 L1109 266.1 L1111 264.9 L1113.1 263.7 L1115.1 262.5 L1117.2 261.4 L1119.2 260.2 L1121.2 259 L1123.3 257.9 L1125.3 256.7 L1127.4 255.6 L1129.4 254.5 L1131.4 253.4 L1133.5 252.3 L1135.5 251.2 L1137.5 250.1 L1139.6 249 L1141.6 247.9 L1143.7 246.8 L1145.7 245.7 L1147.7 244.5 L1149.8 243.3 L1151.8 242.1 L1153.8 240.9 L1155.9 239.7 L1157.9 238.5 L1160 237.3 L1162 236.1 L1164 234.9 L1166.1 233.7 L1168.1 232.5 L1170.2 231.2 L1172.2 230 L1174.2 228.8 L1176.3 227.6 L1178.3 226.4 L1180.3 225.2 L1182.4 224 L1184.4 222.8 L1186.5 221.5 L1188.5 220.3 L1190.5 219.1 L1192.6 217.9 L1194.6 216.7 L1196.6 215.5 L1198.7 214.3 L1200.7 213 L1202.8 211.8 L1204.8 210.6 L1206.8 209.4 L1208.9 208.2 L1210.9 207 L1213 205.8 L1215 204.5 L1217 203.3 L1219.1 202.1 L1221.1 200.9 L1223.1 199.7 L1225.2 198.5 L1227.2 197.3 L1229.3 196 L1231.3 194.8 L1233.3 193.6 L1235.4 192.4 L1237.4 191.2 L1239.4 190 L1241.5 188.7 L1243.5 187.5 L1245.6 186.3 L1247.6 185.1"/>
<path stroke="#8000ff" stroke-width="4.5" d="M471.1 642.1 L473.1 641.3 L475.2 640.4 L477.2 639.6 L479.2 638.8 L481.3 638 L483.3 637.2 L485.3 636.4 L487.4 635.6 L489.4 634.9 L491.5 634.1 L493.5 633.3 L495.5 632.6 L497.6 631.8 L499.6 631 L501.6 630.2 L503.7 629.5 L505.7 628.7 L507.8 627.9 L509.8 627.1 L511.8 626.3 L513.9 625.6 L515.9 624.8 L518 624 L520 623.2 L522 622.4 L524.1 621.6 L526.1 620.9 L528.1 620.1 L530.2 619.3 L532.2 618.5 L534.3 617.7 L536.3 616.9 L538.3 616.1 L540.4 615.3 L542.4 614.5 L544.4 613.8 L546.5 613 L548.5 612.2 L550.6 611.4 L552.6 610.6 L554.6 609.8 L556.7 609 L558.7 608.2 L560.8 607.4 L562.8 606.6 L564.8 605.8 L566.9 605 L568.9 604.2 L570.9 603.4 L573 602.6 L575 601.8 L577.1 601 L579.1 600.2 L581.1 599.4 L583.2 598.6 L585.2 597.8 L587.2 596.9 L589.3 596.2 L591.3 595.4 L593.4 594.6 L595.4 593.9 L597.4 593.2 L599.5 592.5 L601.5 591.8 L603.6 591.2 L605.6 590.5 L607.6 589.9 L609.7 589.2 L611.7 588.6 L613.7 588 L615.8 587.3 L617.8 586.7 L619.9 586.1 L621.9 585.4 L623.9 584.8 L626 584.2 L628 583.5 L630 582.8 L632.1 582.2 L634.1 581.5 L636.2 580.8 L638.2 580.1 L640.2 579.3 L642.3 578.6 L644.3 577.8 L646.4 577 L648.4 576.1 L650.4 575.3 L652.5 574.4 L654.5 573.5 L656.5 572.6 L658.6 571.7 L660.6 570.7 L662.7 569.8 L664.7 568.8 L666.7 567.8 L668.8 566.8 L670.8 565.8 L672.8 564.9 L674.9 563.9 L676.9 562.9 L679 561.9 L681 560.9 L683 560 L685.1 559 L687.1 558.1 L689.2 557.1 L691.2 556.2 L693.2 555.2 L695.3 554.2 L697.3 553.3 L699.3 552.3 L701.4 551.4 L703.4 550.4 L705.5 549.4 L707.5 548.4 L709.5 547.5 L711.6 546.5 L713.6 545.5 L715.6 544.6 L717.7 543.6 L719.7 542.6 L721.8 541.7 L723.8 540.7 L725.8 539.7 L727.9 538.8 L729.9 537.8 L732 536.8 L734 535.9 L736 534.9 L738.1 534 L740.1 533 L742.1 532.1 L744.2 531.2 L746.2 530.2 L748.3 529.3 L750.3 528.4 L752.3 527.5 L754.4 526.6 L756.4 525.7 L758.5 524.8 L760.5 523.9 L762.5 523 L764.6 522.1 L766.6 521.2 L768.6 520.3 L770.7 519.5 L772.7 518.6 L774.8 517.7 L776.8 516.9 L778.8 516 L780.9 515.1 L782.9 514.3 L784.9 513.4 L787 512.5 L789 511.7 L791.1 510.8 L793.1 509.9 L795.1 509.1 L797.2 508.2 L799.2 507.3 L801.3 506.5 L803.3 505.6 L805.3 504.7 L807.4 503.8 L809.4 503 L811.4 502.1 L813.5 501.2 L815.5 500.3 L817.6 499.4 L819.6 498.5 L821.6 497.6 L823.7 496.7 L825.7 495.8 L827.7 494.9 L829.8 494 L831.8 493.1 L833.9 492.1 L835.9 491.2 L837.9 490.3 L840 489.3 L842 488.4 L844.1 487.4 L846.1 486.5 L848.1 485.5 L850.2 484.6 L852.2 483.6 L854.2 482.7 L856.3 481.7 L858.3 480.8 L860.4 479.8 L862.4 478.9 L864.4 477.9 L866.5 476.9 L868.5 476 L870.5 475 L872.6 474 L874.6 473 L876.7 472.1 L878.7 471.1 L880.7 470.1 L882.8 469.1 L884.8 468.1 L886.9 467.2 L888.9 466.2 L890.9 465.2 L893 464.2 L895 463.2 L897 462.2 L899.1 461.2 L901.1 460.2 L903.2 459.2 L905.2 458.2 L907.2 457.3 L909.3 456.3 L911.3 455.3 L913.3 454.3 L915.4 453.2 L917.4 452.2 L919.5 451.2 L921.5 450.2 L923.5 449.2 L925.6 448.1 L927.6 447.1 L929.7 446.1 L931.7 445 L933.7 444 L935.8 442.9 L937.8 441.9 L939.8 440.8 L941.9 439.8 L943.9 438.7 L946 437.7 L948 436.6 L950 435.6 L952.1 434.5 L954.1 433.5 L956.1 432.4 L958.2 431.3 L960.2 430.3 L962.3 429.2 L964.3 428.2 L966.3 427.1 L968.4 426.1 L970.4 425 L972.5 424 L974.5 422.9 L976.5 421.9 L978.6 420.8 L980.6 419.8 L982.6 418.7 L984.7 417.7 L986.7 416.7 L988.8 415.6 L990.8 414.6 L992.8 413.6 L994.9 412.6 L996.9 411.5 L998.9 410.5 L1001 409.5 L1003 408.5 L1005.1 407.5 L1007.1 406.5 L1009.1 405.5 L1011.2 404.4 L1013.2 403.4 L1015.3 402.4 L1017.3 401.4 L1019.3 400.4 L1021.4 399.4 L1023.4 398.3 L1025.4 397.3 L1027.5 396.3 L1029.5 395.3 L1031.6 394.3 L1033.6 393.2 L1035.6 392.2 L1037.7 391.2 L1039.7 390.2 L1041.8 389.1 L1043.8 388.1 L1045.8 387.1 L1047.9 386.1 L1049.9 385.1 L1051.9 384 L1054 383 L1056 382 L1058.1 381 L1060.1 379.9 L1062.1 378.9 L1064.2 377.9 L1066.2 376.9 L1068.2 375.8 L1070.3 374.8 L1072.3 373.8 L1074.4 373 L1076.4 372.3 L1078.4 371.7 L1080.5 371.1 L1082.5 370.6 L1084.6 370.2 L1086.6 369.7 L1088.6 369.3 L1090.7 368.9 L1092.7 368.5 L1094.7 368.1 L1096.8 367.6 L1098.8 367.1 L1100.9 366.4 L1102.9 365.7 L1104.9 364.9 L1107 364 L1109 363.2 L1111 362.3 L1113.1 361.4 L1115.1 360.5 L1117.2 359.6 L1119.2 358.7 L1121.2 357.8 L1123.3 356.9 L1125.3 355.9 L1127.4 355 L1129.4 354 L1131.4 353 L1133.5 352 L1135.5 351 L1137.5 350 L1139.6 349 L1141.6 347.9 L1143.7 346.8 L1145.7 345.7 L1147.7 344.6 L1149.8 343.5 L1151.8 342.4 L1153.8 341.3 L1155.9 340.1 L1157.9 339 L1160 337.8 L1162 336.6 L1164 335.5 L1166.1 334.3 L1168.1 333.1 L1170.2 331.9 L1172.2 330.7 L1174.2 329.5 L1176.3 328.3 L1178.3 327.1 L1180.3 325.9 L1182.4 324.7 L1184.4 323.5 L1186.5 322.3 L1188.5 321.1 L1190.5 319.9 L1192.6 318.7 L1194.6 317.5 L1196.6 316.3 L1198.7 315.1 L1200.7 313.9 L1202.8 312.7 L1204.8 311.4 L1206.8 310.2 L1208.9 309 L1210.9 307.8 L1213 306.6 L1215 305.4 L1217 304.1 L1219.1 302.9 L1221.1 301.7 L1223.1 300.4 L1225.2 299.2 L1227.2 298 L1229.3 296.7 L1231.3 295.5 L1233.3 294.2 L1235.4 292.9 L1237.4 291.6 L1239.4 290.4 L1241.5 289.1 L1243.5 287.7 L1245.6 286.4 L1247.6 285.1"/>
</g>
<g shape-rendering="crispEdges" fill="#000">
<rect x="482.3" y="241.0" width="748.8" height="3"/>
<rect x="1229.1" y="241.0" width="2.2" height="411.79999999999995"/>
<rect x="482.3" y="238.5" width="6" height="414.29999999999995"/>
<rect x="482.3" y="646.8" width="750.8" height="6"/>
<rect x="458" y="494" width="25" height="7"/>
<rect x="458" y="269" width="25" height="7"/>
<rect x="471" y="606.9" width="12" height="6"/>
<rect x="471" y="382.1" width="12" height="6"/>
<rect x="550" y="652" width="6" height="25"/>
<rect x="822" y="652" width="6" height="25"/>
<rect x="1093" y="652" width="6" height="25"/>
<rect x="685.5" y="652" width="6" height="11.8"/>
<rect x="957.2" y="652" width="6" height="11.8"/>
</g>
<g font-size="57">
<text transform="translate(439.5 514.9) scale(1 1.02)" text-anchor="end">2</text>
<text transform="translate(439.5 290.2) scale(1 1.02)" text-anchor="end">3</text>
<text transform="translate(553.4 741.3) scale(1 1.02)" text-anchor="middle">500</text>
<text transform="translate(825.1 741.3) scale(1 1.02)" text-anchor="middle">600</text>
<text transform="translate(1096.9 741.3) scale(1 1.02)" text-anchor="middle">700</text>
</g>
<g shape-rendering="crispEdges" stroke="#000">
<path d="M874 1060V795" stroke-width="8" fill="none"/>
<path d="M873.6 761L865 794.9H882.2Z" fill="#000" stroke-width="8" stroke-linejoin="round"/>
</g>
</svg>
</body></html>
